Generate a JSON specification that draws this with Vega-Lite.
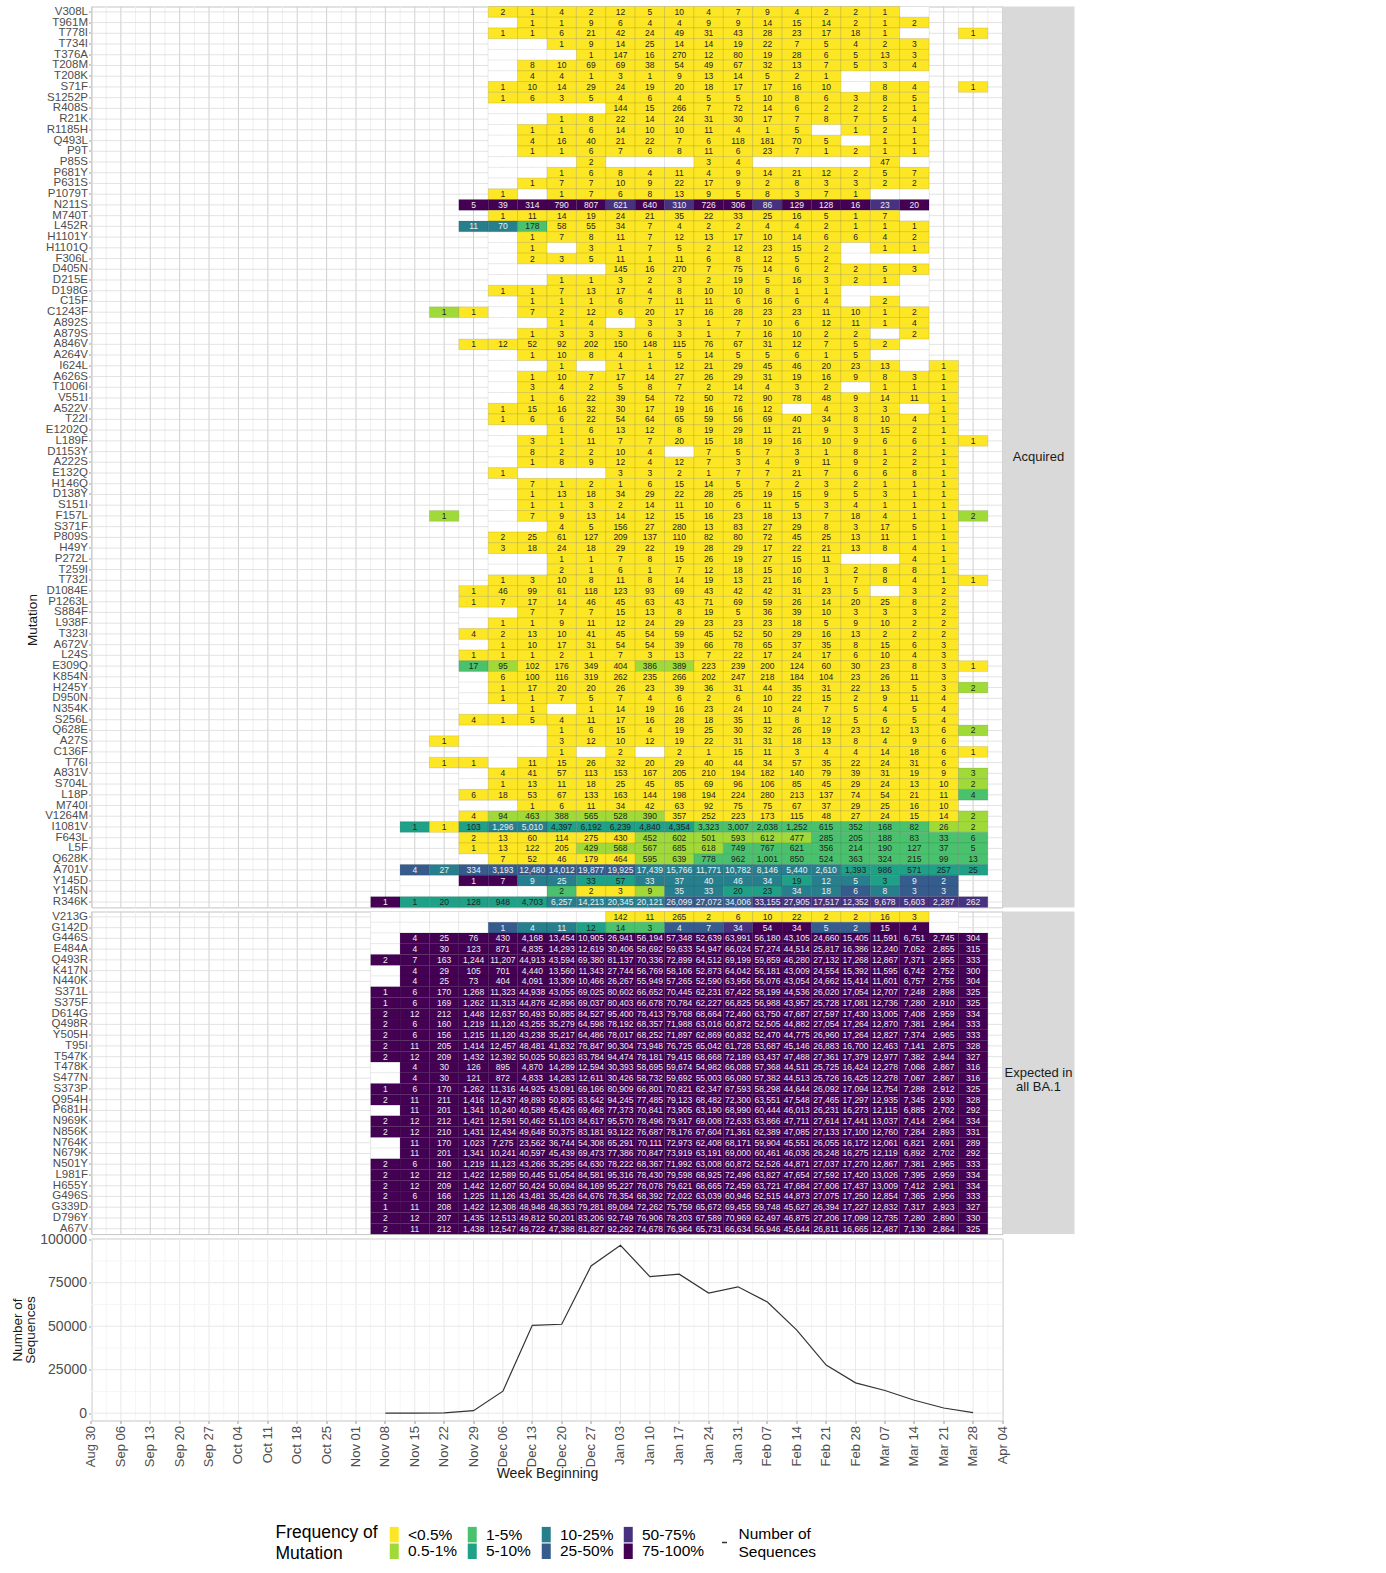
{"$schema":"https://vega.github.io/schema/vega-lite/v6.json","background":"white","padding":{"left":9.5,"top":4.5,"right":0,"bottom":0},"config":{"font":"Liberation Sans","view":{"stroke":"#c4c4c4"},"axis":{"labelFont":"Liberation Sans","titleFont":"Liberation Sans","labelColor":"#4d4d4d","tickColor":"#9a9a9a","tickSize":3}},"columns":2,"bounds":"flush","spacing":{"row":4,"column":0},
"datasets":{
"wk":[{"w":"Aug 30"},{"w":"Sep 06"},{"w":"Sep 13"},{"w":"Sep 20"},{"w":"Sep 27"},{"w":"Oct 04"},{"w":"Oct 11"},{"w":"Oct 18"},{"w":"Oct 25"},{"w":"Nov 01"},{"w":"Nov 08"},{"w":"Nov 15"},{"w":"Nov 22"},{"w":"Nov 29"},{"w":"Dec 06"},{"w":"Dec 13"},{"w":"Dec 20"},{"w":"Dec 27"},{"w":"Jan 03"},{"w":"Jan 10"},{"w":"Jan 17"},{"w":"Jan 24"},{"w":"Jan 31"},{"w":"Feb 07"},{"w":"Feb 14"},{"w":"Feb 21"},{"w":"Feb 28"},{"w":"Mar 07"},{"w":"Mar 14"},{"w":"Mar 21"},{"w":"Mar 28"},{"w":"Apr 04"}],
"wk2":[{"w":"Sep 06"},{"w":"Sep 13"},{"w":"Sep 20"},{"w":"Sep 27"},{"w":"Oct 04"},{"w":"Oct 11"},{"w":"Oct 18"},{"w":"Oct 25"},{"w":"Nov 01"},{"w":"Nov 08"},{"w":"Nov 15"},{"w":"Nov 22"},{"w":"Nov 29"},{"w":"Dec 06"},{"w":"Dec 13"},{"w":"Dec 20"},{"w":"Dec 27"},{"w":"Jan 03"},{"w":"Jan 10"},{"w":"Jan 17"},{"w":"Jan 24"},{"w":"Jan 31"},{"w":"Feb 07"},{"w":"Feb 14"},{"w":"Feb 21"},{"w":"Feb 28"},{"w":"Mar 07"},{"w":"Mar 14"},{"w":"Mar 21"},{"w":"Mar 28"},{"w":"Apr 04"}],
"r1":[{"m":"V308L"},{"m":"T961M"},{"m":"T778I"},{"m":"T734I"},{"m":"T376A"},{"m":"T208M"},{"m":"T208K"},{"m":"S71F"},{"m":"S1252P"},{"m":"R408S"},{"m":"R21K"},{"m":"R1185H"},{"m":"Q493L"},{"m":"P9T"},{"m":"P85S"},{"m":"P681Y"},{"m":"P631S"},{"m":"P1079T"},{"m":"N211S"},{"m":"M740T"},{"m":"L452R"},{"m":"H1101Y"},{"m":"H1101Q"},{"m":"F306L"},{"m":"D405N"},{"m":"D215E"},{"m":"D198G"},{"m":"C15F"},{"m":"C1243F"},{"m":"A892S"},{"m":"A879S"},{"m":"A846V"},{"m":"A264V"},{"m":"I624L"},{"m":"A626S"},{"m":"T1006I"},{"m":"V551I"},{"m":"A522V"},{"m":"T22I"},{"m":"E1202Q"},{"m":"L189F"},{"m":"D1153Y"},{"m":"A222S"},{"m":"E132Q"},{"m":"H146Q"},{"m":"D138Y"},{"m":"S151I"},{"m":"F157L"},{"m":"S371F"},{"m":"P809S"},{"m":"H49Y"},{"m":"P272L"},{"m":"T259I"},{"m":"T732I"},{"m":"D1084E"},{"m":"P1263L"},{"m":"S884F"},{"m":"L938F"},{"m":"T323I"},{"m":"A672V"},{"m":"L24S"},{"m":"E309Q"},{"m":"K854N"},{"m":"H245Y"},{"m":"D950N"},{"m":"N354K"},{"m":"S256L"},{"m":"Q628E"},{"m":"A27S"},{"m":"C136F"},{"m":"T76I"},{"m":"A831V"},{"m":"S704L"},{"m":"L18P"},{"m":"M740I"},{"m":"V1264M"},{"m":"I1081V"},{"m":"F643L"},{"m":"L5F"},{"m":"Q628K"},{"m":"A701V"},{"m":"Y145D"},{"m":"Y145N"},{"m":"R346K"}],
"r2":[{"m":"V213G"},{"m":"G142D"},{"m":"G446S"},{"m":"E484A"},{"m":"Q493R"},{"m":"K417N"},{"m":"N440K"},{"m":"S371L"},{"m":"S375F"},{"m":"D614G"},{"m":"Q498R"},{"m":"Y505H"},{"m":"T95I"},{"m":"T547K"},{"m":"T478K"},{"m":"S477N"},{"m":"S373P"},{"m":"Q954H"},{"m":"P681H"},{"m":"N969K"},{"m":"N856K"},{"m":"N764K"},{"m":"N679K"},{"m":"N501Y"},{"m":"L981F"},{"m":"H655Y"},{"m":"G496S"},{"m":"G339D"},{"m":"D796Y"},{"m":"A67V"}],
"na":[{"m":"V308L","w":"Mar 14"},{"m":"T961M","w":"Dec 06"},{"m":"T778I","w":"Mar 14"},{"m":"T734I","w":"Dec 06"},{"m":"T734I","w":"Dec 13"},{"m":"T376A","w":"Dec 06"},{"m":"T376A","w":"Dec 13"},{"m":"T376A","w":"Dec 20"},{"m":"T208M","w":"Dec 06"},{"m":"T208K","w":"Dec 06"},{"m":"T208K","w":"Feb 28"},{"m":"T208K","w":"Mar 07"},{"m":"T208K","w":"Mar 14"},{"m":"S71F","w":"Feb 28"},{"m":"R408S","w":"Dec 06"},{"m":"R408S","w":"Dec 13"},{"m":"R408S","w":"Dec 20"},{"m":"R408S","w":"Dec 27"},{"m":"R21K","w":"Dec 06"},{"m":"R21K","w":"Dec 13"},{"m":"R1185H","w":"Dec 06"},{"m":"R1185H","w":"Feb 21"},{"m":"Q493L","w":"Dec 06"},{"m":"Q493L","w":"Feb 28"},{"m":"P9T","w":"Dec 06"},{"m":"P85S","w":"Dec 06"},{"m":"P85S","w":"Dec 13"},{"m":"P85S","w":"Dec 20"},{"m":"P85S","w":"Jan 03"},{"m":"P85S","w":"Jan 10"},{"m":"P85S","w":"Jan 17"},{"m":"P85S","w":"Feb 07"},{"m":"P85S","w":"Feb 14"},{"m":"P85S","w":"Feb 21"},{"m":"P85S","w":"Feb 28"},{"m":"P85S","w":"Mar 14"},{"m":"P681Y","w":"Dec 06"},{"m":"P681Y","w":"Dec 13"},{"m":"P631S","w":"Dec 06"},{"m":"P1079T","w":"Dec 13"},{"m":"P1079T","w":"Mar 07"},{"m":"P1079T","w":"Mar 14"},{"m":"M740T","w":"Mar 14"},{"m":"H1101Y","w":"Dec 06"},{"m":"H1101Q","w":"Dec 06"},{"m":"H1101Q","w":"Dec 20"},{"m":"H1101Q","w":"Feb 28"},{"m":"F306L","w":"Dec 06"},{"m":"F306L","w":"Feb 28"},{"m":"F306L","w":"Mar 07"},{"m":"F306L","w":"Mar 14"},{"m":"D405N","w":"Dec 06"},{"m":"D405N","w":"Dec 13"},{"m":"D405N","w":"Dec 20"},{"m":"D405N","w":"Dec 27"},{"m":"D215E","w":"Dec 06"},{"m":"D215E","w":"Dec 13"},{"m":"D215E","w":"Mar 14"},{"m":"D198G","w":"Feb 28"},{"m":"D198G","w":"Mar 07"},{"m":"D198G","w":"Mar 14"},{"m":"C15F","w":"Dec 06"},{"m":"C15F","w":"Feb 28"},{"m":"C15F","w":"Mar 14"},{"m":"C1243F","w":"Dec 06"},{"m":"A892S","w":"Dec 06"},{"m":"A892S","w":"Dec 13"},{"m":"A892S","w":"Jan 03"},{"m":"A879S","w":"Dec 06"},{"m":"A879S","w":"Mar 07"},{"m":"A846V","w":"Mar 14"},{"m":"A264V","w":"Dec 06"},{"m":"A264V","w":"Mar 07"},{"m":"A264V","w":"Mar 14"},{"m":"I624L","w":"Dec 06"},{"m":"I624L","w":"Dec 13"},{"m":"I624L","w":"Dec 27"},{"m":"I624L","w":"Mar 14"},{"m":"A626S","w":"Dec 06"},{"m":"T1006I","w":"Dec 06"},{"m":"T1006I","w":"Feb 28"},{"m":"V551I","w":"Dec 06"},{"m":"A522V","w":"Feb 14"},{"m":"A522V","w":"Mar 14"},{"m":"E1202Q","w":"Dec 06"},{"m":"E1202Q","w":"Dec 13"},{"m":"L189F","w":"Dec 06"},{"m":"D1153Y","w":"Dec 06"},{"m":"D1153Y","w":"Jan 17"},{"m":"A222S","w":"Dec 06"},{"m":"E132Q","w":"Dec 13"},{"m":"E132Q","w":"Dec 20"},{"m":"E132Q","w":"Dec 27"},{"m":"H146Q","w":"Dec 06"},{"m":"D138Y","w":"Dec 06"},{"m":"S151I","w":"Dec 06"},{"m":"F157L","w":"Dec 06"},{"m":"S371F","w":"Dec 06"},{"m":"S371F","w":"Dec 13"},{"m":"P272L","w":"Dec 06"},{"m":"P272L","w":"Dec 13"},{"m":"P272L","w":"Feb 28"},{"m":"P272L","w":"Mar 07"},{"m":"T259I","w":"Dec 06"},{"m":"T259I","w":"Dec 13"},{"m":"D1084E","w":"Mar 07"},{"m":"S884F","w":"Nov 29"},{"m":"S884F","w":"Dec 06"},{"m":"L938F","w":"Nov 29"},{"m":"A672V","w":"Nov 29"},{"m":"K854N","w":"Nov 29"},{"m":"H245Y","w":"Nov 29"},{"m":"D950N","w":"Nov 29"},{"m":"N354K","w":"Nov 29"},{"m":"N354K","w":"Dec 06"},{"m":"N354K","w":"Dec 20"},{"m":"Q628E","w":"Nov 29"},{"m":"Q628E","w":"Dec 06"},{"m":"Q628E","w":"Dec 13"},{"m":"A27S","w":"Nov 29"},{"m":"A27S","w":"Dec 06"},{"m":"A27S","w":"Dec 13"},{"m":"C136F","w":"Nov 29"},{"m":"C136F","w":"Dec 06"},{"m":"C136F","w":"Dec 13"},{"m":"C136F","w":"Dec 27"},{"m":"C136F","w":"Jan 10"},{"m":"T76I","w":"Dec 06"},{"m":"A831V","w":"Nov 29"},{"m":"S704L","w":"Nov 29"},{"m":"M740I","w":"Nov 29"},{"m":"M740I","w":"Dec 06"},{"m":"Q628K","w":"Nov 29"},{"m":"Y145D","w":"Nov 15"},{"m":"Y145D","w":"Nov 22"},{"m":"Y145N","w":"Nov 15"},{"m":"Y145N","w":"Nov 22"},{"m":"Y145N","w":"Nov 29"},{"m":"Y145N","w":"Dec 06"},{"m":"Y145N","w":"Dec 13"}],
"na2":[{"m":"V213G","w":"Nov 08"},{"m":"V213G","w":"Nov 15"},{"m":"V213G","w":"Nov 22"},{"m":"V213G","w":"Nov 29"},{"m":"V213G","w":"Dec 06"},{"m":"V213G","w":"Dec 13"},{"m":"V213G","w":"Dec 20"},{"m":"V213G","w":"Dec 27"},{"m":"V213G","w":"Mar 21"},{"m":"G142D","w":"Nov 08"},{"m":"G142D","w":"Nov 15"},{"m":"G142D","w":"Nov 22"},{"m":"G142D","w":"Nov 29"},{"m":"G142D","w":"Mar 21"},{"m":"G446S","w":"Nov 08"},{"m":"E484A","w":"Nov 08"},{"m":"K417N","w":"Nov 08"},{"m":"N440K","w":"Nov 08"},{"m":"T478K","w":"Nov 08"},{"m":"S477N","w":"Nov 08"},{"m":"P681H","w":"Nov 08"},{"m":"N764K","w":"Nov 08"},{"m":"N679K","w":"Nov 08"}],
"t":[{"w":"Nov 08","v":2},{"w":"Nov 15","v":12},{"w":"Nov 22","v":212},{"w":"Nov 29","v":1448},{"w":"Dec 06","v":12640},{"w":"Dec 13","v":50500},{"w":"Dec 20","v":51100},{"w":"Dec 27","v":84620},{"w":"Jan 03","v":96500},{"w":"Jan 10","v":78500},{"w":"Jan 17","v":79920},{"w":"Jan 24","v":69010},{"w":"Jan 31","v":72640},{"w":"Feb 07","v":63870},{"w":"Feb 14","v":47720},{"w":"Feb 21","v":27620},{"w":"Feb 28","v":17450},{"w":"Mar 07","v":13040},{"w":"Mar 14","v":7420},{"w":"Mar 21","v":2970},{"w":"Mar 28","v":335}],
"h":[
{"m":"V308L","w":"Dec 06","n":2,"c":1},{"m":"V308L","w":"Dec 13","n":1,"c":1},{"m":"V308L","w":"Dec 20","n":4,"c":1},{"m":"V308L","w":"Dec 27","n":2,"c":1},{"m":"V308L","w":"Jan 03","n":12,"c":1},{"m":"V308L","w":"Jan 10","n":5,"c":1},{"m":"V308L","w":"Jan 17","n":10,"c":1},{"m":"V308L","w":"Jan 24","n":4,"c":1},{"m":"V308L","w":"Jan 31","n":7,"c":1},{"m":"V308L","w":"Feb 07","n":9,"c":1},{"m":"V308L","w":"Feb 14","n":4,"c":1},{"m":"V308L","w":"Feb 21","n":2,"c":1},{"m":"V308L","w":"Feb 28","n":2,"c":1},{"m":"V308L","w":"Mar 07","n":1,"c":1},
{"m":"T961M","w":"Dec 13","n":1,"c":1},{"m":"T961M","w":"Dec 20","n":1,"c":1},{"m":"T961M","w":"Dec 27","n":9,"c":1},{"m":"T961M","w":"Jan 03","n":6,"c":1},{"m":"T961M","w":"Jan 10","n":4,"c":1},{"m":"T961M","w":"Jan 17","n":4,"c":1},{"m":"T961M","w":"Jan 24","n":9,"c":1},{"m":"T961M","w":"Jan 31","n":9,"c":1},{"m":"T961M","w":"Feb 07","n":14,"c":1},{"m":"T961M","w":"Feb 14","n":15,"c":1},{"m":"T961M","w":"Feb 21","n":14,"c":1},{"m":"T961M","w":"Feb 28","n":2,"c":1},{"m":"T961M","w":"Mar 07","n":1,"c":1},{"m":"T961M","w":"Mar 14","n":2,"c":1},
{"m":"T778I","w":"Dec 06","n":1,"c":1},{"m":"T778I","w":"Dec 13","n":1,"c":1},{"m":"T778I","w":"Dec 20","n":6,"c":1},{"m":"T778I","w":"Dec 27","n":21,"c":1},{"m":"T778I","w":"Jan 03","n":42,"c":1},{"m":"T778I","w":"Jan 10","n":24,"c":1},{"m":"T778I","w":"Jan 17","n":49,"c":1},{"m":"T778I","w":"Jan 24","n":31,"c":1},{"m":"T778I","w":"Jan 31","n":43,"c":1},{"m":"T778I","w":"Feb 07","n":28,"c":1},{"m":"T778I","w":"Feb 14","n":23,"c":1},{"m":"T778I","w":"Feb 21","n":17,"c":1},{"m":"T778I","w":"Feb 28","n":18,"c":1},{"m":"T778I","w":"Mar 07","n":1,"c":1},{"m":"T778I","w":"Mar 28","n":1,"c":1},
{"m":"T734I","w":"Dec 20","n":1,"c":1},{"m":"T734I","w":"Dec 27","n":9,"c":1},{"m":"T734I","w":"Jan 03","n":14,"c":1},{"m":"T734I","w":"Jan 10","n":25,"c":1},{"m":"T734I","w":"Jan 17","n":14,"c":1},{"m":"T734I","w":"Jan 24","n":14,"c":1},{"m":"T734I","w":"Jan 31","n":19,"c":1},{"m":"T734I","w":"Feb 07","n":22,"c":1},{"m":"T734I","w":"Feb 14","n":7,"c":1},{"m":"T734I","w":"Feb 21","n":5,"c":1},{"m":"T734I","w":"Feb 28","n":4,"c":1},{"m":"T734I","w":"Mar 07","n":2,"c":1},{"m":"T734I","w":"Mar 14","n":3,"c":1},
{"m":"T376A","w":"Dec 27","n":1,"c":1},{"m":"T376A","w":"Jan 03","n":147,"c":1},{"m":"T376A","w":"Jan 10","n":16,"c":1},{"m":"T376A","w":"Jan 17","n":270,"c":1},{"m":"T376A","w":"Jan 24","n":12,"c":1},{"m":"T376A","w":"Jan 31","n":80,"c":1},{"m":"T376A","w":"Feb 07","n":19,"c":1},{"m":"T376A","w":"Feb 14","n":28,"c":1},{"m":"T376A","w":"Feb 21","n":6,"c":1},{"m":"T376A","w":"Feb 28","n":5,"c":1},{"m":"T376A","w":"Mar 07","n":13,"c":1},{"m":"T376A","w":"Mar 14","n":3,"c":1},
{"m":"T208M","w":"Dec 13","n":8,"c":1},{"m":"T208M","w":"Dec 20","n":10,"c":1},{"m":"T208M","w":"Dec 27","n":69,"c":1},{"m":"T208M","w":"Jan 03","n":69,"c":1},{"m":"T208M","w":"Jan 10","n":38,"c":1},{"m":"T208M","w":"Jan 17","n":54,"c":1},{"m":"T208M","w":"Jan 24","n":49,"c":1},{"m":"T208M","w":"Jan 31","n":67,"c":1},{"m":"T208M","w":"Feb 07","n":32,"c":1},{"m":"T208M","w":"Feb 14","n":13,"c":1},{"m":"T208M","w":"Feb 21","n":7,"c":1},{"m":"T208M","w":"Feb 28","n":5,"c":1},{"m":"T208M","w":"Mar 07","n":3,"c":1},{"m":"T208M","w":"Mar 14","n":4,"c":1},
{"m":"T208K","w":"Dec 13","n":4,"c":1},{"m":"T208K","w":"Dec 20","n":4,"c":1},{"m":"T208K","w":"Dec 27","n":1,"c":1},{"m":"T208K","w":"Jan 03","n":3,"c":1},{"m":"T208K","w":"Jan 10","n":1,"c":1},{"m":"T208K","w":"Jan 17","n":9,"c":1},{"m":"T208K","w":"Jan 24","n":13,"c":1},{"m":"T208K","w":"Jan 31","n":14,"c":1},{"m":"T208K","w":"Feb 07","n":5,"c":1},{"m":"T208K","w":"Feb 14","n":2,"c":1},{"m":"T208K","w":"Feb 21","n":1,"c":1},
{"m":"S71F","w":"Dec 06","n":1,"c":1},{"m":"S71F","w":"Dec 13","n":10,"c":1},{"m":"S71F","w":"Dec 20","n":14,"c":1},{"m":"S71F","w":"Dec 27","n":29,"c":1},{"m":"S71F","w":"Jan 03","n":24,"c":1},{"m":"S71F","w":"Jan 10","n":19,"c":1},{"m":"S71F","w":"Jan 17","n":20,"c":1},{"m":"S71F","w":"Jan 24","n":18,"c":1},{"m":"S71F","w":"Jan 31","n":17,"c":1},{"m":"S71F","w":"Feb 07","n":17,"c":1},{"m":"S71F","w":"Feb 14","n":16,"c":1},{"m":"S71F","w":"Feb 21","n":10,"c":1},{"m":"S71F","w":"Mar 07","n":8,"c":1},{"m":"S71F","w":"Mar 14","n":4,"c":1},{"m":"S71F","w":"Mar 28","n":1,"c":1},
{"m":"S1252P","w":"Dec 06","n":1,"c":1},{"m":"S1252P","w":"Dec 13","n":6,"c":1},{"m":"S1252P","w":"Dec 20","n":3,"c":1},{"m":"S1252P","w":"Dec 27","n":5,"c":1},{"m":"S1252P","w":"Jan 03","n":4,"c":1},{"m":"S1252P","w":"Jan 10","n":6,"c":1},{"m":"S1252P","w":"Jan 17","n":4,"c":1},{"m":"S1252P","w":"Jan 24","n":5,"c":1},{"m":"S1252P","w":"Jan 31","n":5,"c":1},{"m":"S1252P","w":"Feb 07","n":10,"c":1},{"m":"S1252P","w":"Feb 14","n":8,"c":1},{"m":"S1252P","w":"Feb 21","n":6,"c":1},{"m":"S1252P","w":"Feb 28","n":3,"c":1},{"m":"S1252P","w":"Mar 07","n":8,"c":1},{"m":"S1252P","w":"Mar 14","n":5,"c":1},
{"m":"R408S","w":"Jan 03","n":144,"c":1},{"m":"R408S","w":"Jan 10","n":15,"c":1},{"m":"R408S","w":"Jan 17","n":266,"c":1},{"m":"R408S","w":"Jan 24","n":7,"c":1},{"m":"R408S","w":"Jan 31","n":72,"c":1},{"m":"R408S","w":"Feb 07","n":14,"c":1},{"m":"R408S","w":"Feb 14","n":6,"c":1},{"m":"R408S","w":"Feb 21","n":2,"c":1},{"m":"R408S","w":"Feb 28","n":2,"c":1},{"m":"R408S","w":"Mar 07","n":2,"c":1},{"m":"R408S","w":"Mar 14","n":1,"c":1},
{"m":"R21K","w":"Dec 20","n":1,"c":1},{"m":"R21K","w":"Dec 27","n":8,"c":1},{"m":"R21K","w":"Jan 03","n":22,"c":1},{"m":"R21K","w":"Jan 10","n":14,"c":1},{"m":"R21K","w":"Jan 17","n":24,"c":1},{"m":"R21K","w":"Jan 24","n":31,"c":1},{"m":"R21K","w":"Jan 31","n":30,"c":1},{"m":"R21K","w":"Feb 07","n":17,"c":1},{"m":"R21K","w":"Feb 14","n":7,"c":1},{"m":"R21K","w":"Feb 21","n":8,"c":1},{"m":"R21K","w":"Feb 28","n":7,"c":1},{"m":"R21K","w":"Mar 07","n":5,"c":1},{"m":"R21K","w":"Mar 14","n":4,"c":1},
{"m":"R1185H","w":"Dec 13","n":1,"c":1},{"m":"R1185H","w":"Dec 20","n":1,"c":1},{"m":"R1185H","w":"Dec 27","n":6,"c":1},{"m":"R1185H","w":"Jan 03","n":14,"c":1},{"m":"R1185H","w":"Jan 10","n":10,"c":1},{"m":"R1185H","w":"Jan 17","n":10,"c":1},{"m":"R1185H","w":"Jan 24","n":11,"c":1},{"m":"R1185H","w":"Jan 31","n":4,"c":1},{"m":"R1185H","w":"Feb 07","n":1,"c":1},{"m":"R1185H","w":"Feb 14","n":5,"c":1},{"m":"R1185H","w":"Feb 28","n":1,"c":1},{"m":"R1185H","w":"Mar 07","n":2,"c":1},{"m":"R1185H","w":"Mar 14","n":1,"c":1},
{"m":"Q493L","w":"Dec 13","n":4,"c":1},{"m":"Q493L","w":"Dec 20","n":16,"c":1},{"m":"Q493L","w":"Dec 27","n":40,"c":1},{"m":"Q493L","w":"Jan 03","n":21,"c":1},{"m":"Q493L","w":"Jan 10","n":22,"c":1},{"m":"Q493L","w":"Jan 17","n":7,"c":1},{"m":"Q493L","w":"Jan 24","n":6,"c":1},{"m":"Q493L","w":"Jan 31","n":118,"c":1},{"m":"Q493L","w":"Feb 07","n":181,"c":1},{"m":"Q493L","w":"Feb 14","n":70,"c":1},{"m":"Q493L","w":"Feb 21","n":5,"c":1},{"m":"Q493L","w":"Mar 07","n":1,"c":1},{"m":"Q493L","w":"Mar 14","n":1,"c":1},
{"m":"P9T","w":"Dec 13","n":1,"c":1},{"m":"P9T","w":"Dec 20","n":1,"c":1},{"m":"P9T","w":"Dec 27","n":6,"c":1},{"m":"P9T","w":"Jan 03","n":7,"c":1},{"m":"P9T","w":"Jan 10","n":6,"c":1},{"m":"P9T","w":"Jan 17","n":8,"c":1},{"m":"P9T","w":"Jan 24","n":11,"c":1},{"m":"P9T","w":"Jan 31","n":6,"c":1},{"m":"P9T","w":"Feb 07","n":23,"c":1},{"m":"P9T","w":"Feb 14","n":7,"c":1},{"m":"P9T","w":"Feb 21","n":1,"c":1},{"m":"P9T","w":"Feb 28","n":2,"c":1},{"m":"P9T","w":"Mar 07","n":1,"c":1},{"m":"P9T","w":"Mar 14","n":1,"c":1},
{"m":"P85S","w":"Dec 27","n":2,"c":1},{"m":"P85S","w":"Jan 24","n":3,"c":1},{"m":"P85S","w":"Jan 31","n":4,"c":1},{"m":"P85S","w":"Mar 07","n":47,"c":1},
{"m":"P681Y","w":"Dec 20","n":1,"c":1},{"m":"P681Y","w":"Dec 27","n":6,"c":1},{"m":"P681Y","w":"Jan 03","n":8,"c":1},{"m":"P681Y","w":"Jan 10","n":4,"c":1},{"m":"P681Y","w":"Jan 17","n":11,"c":1},{"m":"P681Y","w":"Jan 24","n":4,"c":1},{"m":"P681Y","w":"Jan 31","n":9,"c":1},{"m":"P681Y","w":"Feb 07","n":14,"c":1},{"m":"P681Y","w":"Feb 14","n":21,"c":1},{"m":"P681Y","w":"Feb 21","n":12,"c":1},{"m":"P681Y","w":"Feb 28","n":2,"c":1},{"m":"P681Y","w":"Mar 07","n":5,"c":1},{"m":"P681Y","w":"Mar 14","n":7,"c":1},
{"m":"P631S","w":"Dec 13","n":1,"c":1},{"m":"P631S","w":"Dec 20","n":7,"c":1},{"m":"P631S","w":"Dec 27","n":7,"c":1},{"m":"P631S","w":"Jan 03","n":10,"c":1},{"m":"P631S","w":"Jan 10","n":9,"c":1},{"m":"P631S","w":"Jan 17","n":22,"c":1},{"m":"P631S","w":"Jan 24","n":17,"c":1},{"m":"P631S","w":"Jan 31","n":9,"c":1},{"m":"P631S","w":"Feb 07","n":2,"c":1},{"m":"P631S","w":"Feb 14","n":8,"c":1},{"m":"P631S","w":"Feb 21","n":3,"c":1},{"m":"P631S","w":"Feb 28","n":3,"c":1},{"m":"P631S","w":"Mar 07","n":2,"c":1},{"m":"P631S","w":"Mar 14","n":2,"c":1},
{"m":"P1079T","w":"Dec 06","n":1,"c":1},{"m":"P1079T","w":"Dec 20","n":1,"c":1},{"m":"P1079T","w":"Dec 27","n":7,"c":1},{"m":"P1079T","w":"Jan 03","n":6,"c":1},{"m":"P1079T","w":"Jan 10","n":8,"c":1},{"m":"P1079T","w":"Jan 17","n":13,"c":1},{"m":"P1079T","w":"Jan 24","n":9,"c":1},{"m":"P1079T","w":"Jan 31","n":5,"c":1},{"m":"P1079T","w":"Feb 07","n":8,"c":1},{"m":"P1079T","w":"Feb 14","n":3,"c":1},{"m":"P1079T","w":"Feb 21","n":7,"c":1},{"m":"P1079T","w":"Feb 28","n":1,"c":1},
{"m":"N211S","w":"Nov 29","n":5,"c":8},{"m":"N211S","w":"Dec 06","n":39,"c":8},{"m":"N211S","w":"Dec 13","n":314,"c":8},{"m":"N211S","w":"Dec 20","n":790,"c":8},{"m":"N211S","w":"Dec 27","n":807,"c":8},{"m":"N211S","w":"Jan 03","n":621,"c":7},{"m":"N211S","w":"Jan 10","n":640,"c":8},{"m":"N211S","w":"Jan 17","n":310,"c":7},{"m":"N211S","w":"Jan 24","n":726,"c":8},{"m":"N211S","w":"Jan 31","n":306,"c":8},{"m":"N211S","w":"Feb 07","n":86,"c":7},{"m":"N211S","w":"Feb 14","n":129,"c":8},{"m":"N211S","w":"Feb 21","n":128,"c":8},{"m":"N211S","w":"Feb 28","n":16,"c":8},{"m":"N211S","w":"Mar 07","n":23,"c":7},{"m":"N211S","w":"Mar 14","n":20,"c":8},
{"m":"M740T","w":"Dec 06","n":1,"c":1},{"m":"M740T","w":"Dec 13","n":11,"c":1},{"m":"M740T","w":"Dec 20","n":14,"c":1},{"m":"M740T","w":"Dec 27","n":19,"c":1},{"m":"M740T","w":"Jan 03","n":24,"c":1},{"m":"M740T","w":"Jan 10","n":21,"c":1},{"m":"M740T","w":"Jan 17","n":35,"c":1},{"m":"M740T","w":"Jan 24","n":22,"c":1},{"m":"M740T","w":"Jan 31","n":33,"c":1},{"m":"M740T","w":"Feb 07","n":25,"c":1},{"m":"M740T","w":"Feb 14","n":16,"c":1},{"m":"M740T","w":"Feb 21","n":5,"c":1},{"m":"M740T","w":"Feb 28","n":1,"c":1},{"m":"M740T","w":"Mar 07","n":7,"c":1},
{"m":"L452R","w":"Nov 29","n":11,"c":5},{"m":"L452R","w":"Dec 06","n":70,"c":5},{"m":"L452R","w":"Dec 13","n":178,"c":3},{"m":"L452R","w":"Dec 20","n":58,"c":1},{"m":"L452R","w":"Dec 27","n":55,"c":1},{"m":"L452R","w":"Jan 03","n":34,"c":1},{"m":"L452R","w":"Jan 10","n":7,"c":1},{"m":"L452R","w":"Jan 17","n":4,"c":1},{"m":"L452R","w":"Jan 24","n":2,"c":1},{"m":"L452R","w":"Jan 31","n":2,"c":1},{"m":"L452R","w":"Feb 07","n":4,"c":1},{"m":"L452R","w":"Feb 14","n":4,"c":1},{"m":"L452R","w":"Feb 21","n":2,"c":1},{"m":"L452R","w":"Feb 28","n":1,"c":1},{"m":"L452R","w":"Mar 07","n":1,"c":1},{"m":"L452R","w":"Mar 14","n":1,"c":1},
{"m":"H1101Y","w":"Dec 13","n":1,"c":1},{"m":"H1101Y","w":"Dec 20","n":7,"c":1},{"m":"H1101Y","w":"Dec 27","n":8,"c":1},{"m":"H1101Y","w":"Jan 03","n":11,"c":1},{"m":"H1101Y","w":"Jan 10","n":7,"c":1},{"m":"H1101Y","w":"Jan 17","n":12,"c":1},{"m":"H1101Y","w":"Jan 24","n":13,"c":1},{"m":"H1101Y","w":"Jan 31","n":17,"c":1},{"m":"H1101Y","w":"Feb 07","n":10,"c":1},{"m":"H1101Y","w":"Feb 14","n":14,"c":1},{"m":"H1101Y","w":"Feb 21","n":6,"c":1},{"m":"H1101Y","w":"Feb 28","n":6,"c":1},{"m":"H1101Y","w":"Mar 07","n":4,"c":1},{"m":"H1101Y","w":"Mar 14","n":2,"c":1},
{"m":"H1101Q","w":"Dec 13","n":1,"c":1},{"m":"H1101Q","w":"Dec 27","n":3,"c":1},{"m":"H1101Q","w":"Jan 03","n":1,"c":1},{"m":"H1101Q","w":"Jan 10","n":7,"c":1},{"m":"H1101Q","w":"Jan 17","n":5,"c":1},{"m":"H1101Q","w":"Jan 24","n":2,"c":1},{"m":"H1101Q","w":"Jan 31","n":12,"c":1},{"m":"H1101Q","w":"Feb 07","n":23,"c":1},{"m":"H1101Q","w":"Feb 14","n":15,"c":1},{"m":"H1101Q","w":"Feb 21","n":2,"c":1},{"m":"H1101Q","w":"Mar 07","n":1,"c":1},{"m":"H1101Q","w":"Mar 14","n":1,"c":1},
{"m":"F306L","w":"Dec 13","n":2,"c":1},{"m":"F306L","w":"Dec 20","n":3,"c":1},{"m":"F306L","w":"Dec 27","n":5,"c":1},{"m":"F306L","w":"Jan 03","n":11,"c":1},{"m":"F306L","w":"Jan 10","n":1,"c":1},{"m":"F306L","w":"Jan 17","n":11,"c":1},{"m":"F306L","w":"Jan 24","n":6,"c":1},{"m":"F306L","w":"Jan 31","n":8,"c":1},{"m":"F306L","w":"Feb 07","n":12,"c":1},{"m":"F306L","w":"Feb 14","n":5,"c":1},{"m":"F306L","w":"Feb 21","n":2,"c":1},
{"m":"D405N","w":"Jan 03","n":145,"c":1},{"m":"D405N","w":"Jan 10","n":16,"c":1},{"m":"D405N","w":"Jan 17","n":270,"c":1},{"m":"D405N","w":"Jan 24","n":7,"c":1},{"m":"D405N","w":"Jan 31","n":75,"c":1},{"m":"D405N","w":"Feb 07","n":14,"c":1},{"m":"D405N","w":"Feb 14","n":6,"c":1},{"m":"D405N","w":"Feb 21","n":2,"c":1},{"m":"D405N","w":"Feb 28","n":2,"c":1},{"m":"D405N","w":"Mar 07","n":5,"c":1},{"m":"D405N","w":"Mar 14","n":3,"c":1},
{"m":"D215E","w":"Dec 20","n":1,"c":1},{"m":"D215E","w":"Dec 27","n":1,"c":1},{"m":"D215E","w":"Jan 03","n":3,"c":1},{"m":"D215E","w":"Jan 10","n":2,"c":1},{"m":"D215E","w":"Jan 17","n":3,"c":1},{"m":"D215E","w":"Jan 24","n":2,"c":1},{"m":"D215E","w":"Jan 31","n":19,"c":1},{"m":"D215E","w":"Feb 07","n":5,"c":1},{"m":"D215E","w":"Feb 14","n":16,"c":1},{"m":"D215E","w":"Feb 21","n":3,"c":1},{"m":"D215E","w":"Feb 28","n":2,"c":1},{"m":"D215E","w":"Mar 07","n":1,"c":1},
{"m":"D198G","w":"Dec 06","n":1,"c":1},{"m":"D198G","w":"Dec 13","n":1,"c":1},{"m":"D198G","w":"Dec 20","n":7,"c":1},{"m":"D198G","w":"Dec 27","n":13,"c":1},{"m":"D198G","w":"Jan 03","n":17,"c":1},{"m":"D198G","w":"Jan 10","n":4,"c":1},{"m":"D198G","w":"Jan 17","n":8,"c":1},{"m":"D198G","w":"Jan 24","n":10,"c":1},{"m":"D198G","w":"Jan 31","n":10,"c":1},{"m":"D198G","w":"Feb 07","n":8,"c":1},{"m":"D198G","w":"Feb 14","n":1,"c":1},{"m":"D198G","w":"Feb 21","n":1,"c":1},
{"m":"C15F","w":"Dec 13","n":1,"c":1},{"m":"C15F","w":"Dec 20","n":1,"c":1},{"m":"C15F","w":"Dec 27","n":1,"c":1},{"m":"C15F","w":"Jan 03","n":6,"c":1},{"m":"C15F","w":"Jan 10","n":7,"c":1},{"m":"C15F","w":"Jan 17","n":11,"c":1},{"m":"C15F","w":"Jan 24","n":11,"c":1},{"m":"C15F","w":"Jan 31","n":6,"c":1},{"m":"C15F","w":"Feb 07","n":16,"c":1},{"m":"C15F","w":"Feb 14","n":6,"c":1},{"m":"C15F","w":"Feb 21","n":4,"c":1},{"m":"C15F","w":"Mar 07","n":2,"c":1},
{"m":"C1243F","w":"Nov 22","n":1,"c":2},{"m":"C1243F","w":"Nov 29","n":1,"c":1},{"m":"C1243F","w":"Dec 13","n":7,"c":1},{"m":"C1243F","w":"Dec 20","n":2,"c":1},{"m":"C1243F","w":"Dec 27","n":12,"c":1},{"m":"C1243F","w":"Jan 03","n":6,"c":1},{"m":"C1243F","w":"Jan 10","n":20,"c":1},{"m":"C1243F","w":"Jan 17","n":17,"c":1},{"m":"C1243F","w":"Jan 24","n":16,"c":1},{"m":"C1243F","w":"Jan 31","n":28,"c":1},{"m":"C1243F","w":"Feb 07","n":23,"c":1},{"m":"C1243F","w":"Feb 14","n":23,"c":1},{"m":"C1243F","w":"Feb 21","n":11,"c":1},{"m":"C1243F","w":"Feb 28","n":10,"c":1},{"m":"C1243F","w":"Mar 07","n":1,"c":1},{"m":"C1243F","w":"Mar 14","n":2,"c":1},
{"m":"A892S","w":"Dec 20","n":1,"c":1},{"m":"A892S","w":"Dec 27","n":4,"c":1},{"m":"A892S","w":"Jan 10","n":3,"c":1},{"m":"A892S","w":"Jan 17","n":3,"c":1},{"m":"A892S","w":"Jan 24","n":1,"c":1},{"m":"A892S","w":"Jan 31","n":7,"c":1},{"m":"A892S","w":"Feb 07","n":10,"c":1},{"m":"A892S","w":"Feb 14","n":6,"c":1},{"m":"A892S","w":"Feb 21","n":12,"c":1},{"m":"A892S","w":"Feb 28","n":11,"c":1},{"m":"A892S","w":"Mar 07","n":1,"c":1},{"m":"A892S","w":"Mar 14","n":4,"c":1},
{"m":"A879S","w":"Dec 13","n":1,"c":1},{"m":"A879S","w":"Dec 20","n":3,"c":1},{"m":"A879S","w":"Dec 27","n":3,"c":1},{"m":"A879S","w":"Jan 03","n":3,"c":1},{"m":"A879S","w":"Jan 10","n":6,"c":1},{"m":"A879S","w":"Jan 17","n":3,"c":1},{"m":"A879S","w":"Jan 24","n":1,"c":1},{"m":"A879S","w":"Jan 31","n":7,"c":1},{"m":"A879S","w":"Feb 07","n":16,"c":1},{"m":"A879S","w":"Feb 14","n":10,"c":1},{"m":"A879S","w":"Feb 21","n":2,"c":1},{"m":"A879S","w":"Feb 28","n":2,"c":1},{"m":"A879S","w":"Mar 14","n":2,"c":1},
{"m":"A846V","w":"Nov 29","n":1,"c":1},{"m":"A846V","w":"Dec 06","n":12,"c":1},{"m":"A846V","w":"Dec 13","n":52,"c":1},{"m":"A846V","w":"Dec 20","n":92,"c":1},{"m":"A846V","w":"Dec 27","n":202,"c":1},{"m":"A846V","w":"Jan 03","n":150,"c":1},{"m":"A846V","w":"Jan 10","n":148,"c":1},{"m":"A846V","w":"Jan 17","n":115,"c":1},{"m":"A846V","w":"Jan 24","n":76,"c":1},{"m":"A846V","w":"Jan 31","n":67,"c":1},{"m":"A846V","w":"Feb 07","n":31,"c":1},{"m":"A846V","w":"Feb 14","n":12,"c":1},{"m":"A846V","w":"Feb 21","n":7,"c":1},{"m":"A846V","w":"Feb 28","n":5,"c":1},{"m":"A846V","w":"Mar 07","n":2,"c":1},
{"m":"A264V","w":"Dec 13","n":1,"c":1},{"m":"A264V","w":"Dec 20","n":10,"c":1},{"m":"A264V","w":"Dec 27","n":8,"c":1},{"m":"A264V","w":"Jan 03","n":4,"c":1},{"m":"A264V","w":"Jan 10","n":1,"c":1},{"m":"A264V","w":"Jan 17","n":5,"c":1},{"m":"A264V","w":"Jan 24","n":14,"c":1},{"m":"A264V","w":"Jan 31","n":5,"c":1},{"m":"A264V","w":"Feb 07","n":5,"c":1},{"m":"A264V","w":"Feb 14","n":6,"c":1},{"m":"A264V","w":"Feb 21","n":1,"c":1},{"m":"A264V","w":"Feb 28","n":5,"c":1},
{"m":"I624L","w":"Dec 20","n":1,"c":1},{"m":"I624L","w":"Jan 03","n":1,"c":1},{"m":"I624L","w":"Jan 10","n":1,"c":1},{"m":"I624L","w":"Jan 17","n":12,"c":1},{"m":"I624L","w":"Jan 24","n":21,"c":1},{"m":"I624L","w":"Jan 31","n":29,"c":1},{"m":"I624L","w":"Feb 07","n":45,"c":1},{"m":"I624L","w":"Feb 14","n":46,"c":1},{"m":"I624L","w":"Feb 21","n":20,"c":1},{"m":"I624L","w":"Feb 28","n":23,"c":1},{"m":"I624L","w":"Mar 07","n":13,"c":1},{"m":"I624L","w":"Mar 21","n":1,"c":1},
{"m":"A626S","w":"Dec 13","n":1,"c":1},{"m":"A626S","w":"Dec 20","n":10,"c":1},{"m":"A626S","w":"Dec 27","n":7,"c":1},{"m":"A626S","w":"Jan 03","n":17,"c":1},{"m":"A626S","w":"Jan 10","n":14,"c":1},{"m":"A626S","w":"Jan 17","n":27,"c":1},{"m":"A626S","w":"Jan 24","n":26,"c":1},{"m":"A626S","w":"Jan 31","n":29,"c":1},{"m":"A626S","w":"Feb 07","n":31,"c":1},{"m":"A626S","w":"Feb 14","n":19,"c":1},{"m":"A626S","w":"Feb 21","n":16,"c":1},{"m":"A626S","w":"Feb 28","n":9,"c":1},{"m":"A626S","w":"Mar 07","n":8,"c":1},{"m":"A626S","w":"Mar 14","n":3,"c":1},{"m":"A626S","w":"Mar 21","n":1,"c":1},
{"m":"T1006I","w":"Dec 13","n":3,"c":1},{"m":"T1006I","w":"Dec 20","n":4,"c":1},{"m":"T1006I","w":"Dec 27","n":2,"c":1},{"m":"T1006I","w":"Jan 03","n":5,"c":1},{"m":"T1006I","w":"Jan 10","n":8,"c":1},{"m":"T1006I","w":"Jan 17","n":7,"c":1},{"m":"T1006I","w":"Jan 24","n":2,"c":1},{"m":"T1006I","w":"Jan 31","n":14,"c":1},{"m":"T1006I","w":"Feb 07","n":4,"c":1},{"m":"T1006I","w":"Feb 14","n":3,"c":1},{"m":"T1006I","w":"Feb 21","n":2,"c":1},{"m":"T1006I","w":"Mar 07","n":1,"c":1},{"m":"T1006I","w":"Mar 14","n":1,"c":1},{"m":"T1006I","w":"Mar 21","n":1,"c":1},
{"m":"V551I","w":"Dec 13","n":1,"c":1},{"m":"V551I","w":"Dec 20","n":6,"c":1},{"m":"V551I","w":"Dec 27","n":22,"c":1},{"m":"V551I","w":"Jan 03","n":39,"c":1},{"m":"V551I","w":"Jan 10","n":54,"c":1},{"m":"V551I","w":"Jan 17","n":72,"c":1},{"m":"V551I","w":"Jan 24","n":50,"c":1},{"m":"V551I","w":"Jan 31","n":72,"c":1},{"m":"V551I","w":"Feb 07","n":90,"c":1},{"m":"V551I","w":"Feb 14","n":78,"c":1},{"m":"V551I","w":"Feb 21","n":48,"c":1},{"m":"V551I","w":"Feb 28","n":9,"c":1},{"m":"V551I","w":"Mar 07","n":14,"c":1},{"m":"V551I","w":"Mar 14","n":11,"c":1},{"m":"V551I","w":"Mar 21","n":1,"c":1},
{"m":"A522V","w":"Dec 06","n":1,"c":1},{"m":"A522V","w":"Dec 13","n":15,"c":1},{"m":"A522V","w":"Dec 20","n":16,"c":1},{"m":"A522V","w":"Dec 27","n":32,"c":1},{"m":"A522V","w":"Jan 03","n":30,"c":1},{"m":"A522V","w":"Jan 10","n":17,"c":1},{"m":"A522V","w":"Jan 17","n":19,"c":1},{"m":"A522V","w":"Jan 24","n":16,"c":1},{"m":"A522V","w":"Jan 31","n":16,"c":1},{"m":"A522V","w":"Feb 07","n":12,"c":1},{"m":"A522V","w":"Feb 21","n":4,"c":1},{"m":"A522V","w":"Feb 28","n":3,"c":1},{"m":"A522V","w":"Mar 07","n":3,"c":1},{"m":"A522V","w":"Mar 21","n":1,"c":1},
{"m":"T22I","w":"Dec 06","n":1,"c":1},{"m":"T22I","w":"Dec 13","n":6,"c":1},{"m":"T22I","w":"Dec 20","n":6,"c":1},{"m":"T22I","w":"Dec 27","n":22,"c":1},{"m":"T22I","w":"Jan 03","n":54,"c":1},{"m":"T22I","w":"Jan 10","n":64,"c":1},{"m":"T22I","w":"Jan 17","n":65,"c":1},{"m":"T22I","w":"Jan 24","n":59,"c":1},{"m":"T22I","w":"Jan 31","n":56,"c":1},{"m":"T22I","w":"Feb 07","n":69,"c":1},{"m":"T22I","w":"Feb 14","n":40,"c":1},{"m":"T22I","w":"Feb 21","n":34,"c":1},{"m":"T22I","w":"Feb 28","n":8,"c":1},{"m":"T22I","w":"Mar 07","n":10,"c":1},{"m":"T22I","w":"Mar 14","n":4,"c":1},{"m":"T22I","w":"Mar 21","n":1,"c":1},
{"m":"E1202Q","w":"Dec 20","n":1,"c":1},{"m":"E1202Q","w":"Dec 27","n":6,"c":1},{"m":"E1202Q","w":"Jan 03","n":13,"c":1},{"m":"E1202Q","w":"Jan 10","n":12,"c":1},{"m":"E1202Q","w":"Jan 17","n":8,"c":1},{"m":"E1202Q","w":"Jan 24","n":19,"c":1},{"m":"E1202Q","w":"Jan 31","n":29,"c":1},{"m":"E1202Q","w":"Feb 07","n":11,"c":1},{"m":"E1202Q","w":"Feb 14","n":21,"c":1},{"m":"E1202Q","w":"Feb 21","n":9,"c":1},{"m":"E1202Q","w":"Feb 28","n":3,"c":1},{"m":"E1202Q","w":"Mar 07","n":15,"c":1},{"m":"E1202Q","w":"Mar 14","n":2,"c":1},{"m":"E1202Q","w":"Mar 21","n":1,"c":1},
{"m":"L189F","w":"Dec 13","n":3,"c":1},{"m":"L189F","w":"Dec 20","n":1,"c":1},{"m":"L189F","w":"Dec 27","n":11,"c":1},{"m":"L189F","w":"Jan 03","n":7,"c":1},{"m":"L189F","w":"Jan 10","n":7,"c":1},{"m":"L189F","w":"Jan 17","n":20,"c":1},{"m":"L189F","w":"Jan 24","n":15,"c":1},{"m":"L189F","w":"Jan 31","n":18,"c":1},{"m":"L189F","w":"Feb 07","n":19,"c":1},{"m":"L189F","w":"Feb 14","n":16,"c":1},{"m":"L189F","w":"Feb 21","n":10,"c":1},{"m":"L189F","w":"Feb 28","n":9,"c":1},{"m":"L189F","w":"Mar 07","n":6,"c":1},{"m":"L189F","w":"Mar 14","n":6,"c":1},{"m":"L189F","w":"Mar 21","n":1,"c":1},{"m":"L189F","w":"Mar 28","n":1,"c":1},
{"m":"D1153Y","w":"Dec 13","n":8,"c":1},{"m":"D1153Y","w":"Dec 20","n":2,"c":1},{"m":"D1153Y","w":"Dec 27","n":2,"c":1},{"m":"D1153Y","w":"Jan 03","n":10,"c":1},{"m":"D1153Y","w":"Jan 10","n":4,"c":1},{"m":"D1153Y","w":"Jan 24","n":7,"c":1},{"m":"D1153Y","w":"Jan 31","n":5,"c":1},{"m":"D1153Y","w":"Feb 07","n":7,"c":1},{"m":"D1153Y","w":"Feb 14","n":3,"c":1},{"m":"D1153Y","w":"Feb 21","n":1,"c":1},{"m":"D1153Y","w":"Feb 28","n":8,"c":1},{"m":"D1153Y","w":"Mar 07","n":1,"c":1},{"m":"D1153Y","w":"Mar 14","n":2,"c":1},{"m":"D1153Y","w":"Mar 21","n":1,"c":1},
{"m":"A222S","w":"Dec 13","n":1,"c":1},{"m":"A222S","w":"Dec 20","n":8,"c":1},{"m":"A222S","w":"Dec 27","n":9,"c":1},{"m":"A222S","w":"Jan 03","n":12,"c":1},{"m":"A222S","w":"Jan 10","n":4,"c":1},{"m":"A222S","w":"Jan 17","n":12,"c":1},{"m":"A222S","w":"Jan 24","n":7,"c":1},{"m":"A222S","w":"Jan 31","n":3,"c":1},{"m":"A222S","w":"Feb 07","n":4,"c":1},{"m":"A222S","w":"Feb 14","n":9,"c":1},{"m":"A222S","w":"Feb 21","n":11,"c":1},{"m":"A222S","w":"Feb 28","n":9,"c":1},{"m":"A222S","w":"Mar 07","n":2,"c":1},{"m":"A222S","w":"Mar 14","n":2,"c":1},{"m":"A222S","w":"Mar 21","n":1,"c":1},
{"m":"E132Q","w":"Dec 06","n":1,"c":1},{"m":"E132Q","w":"Jan 03","n":3,"c":1},{"m":"E132Q","w":"Jan 10","n":3,"c":1},{"m":"E132Q","w":"Jan 17","n":2,"c":1},{"m":"E132Q","w":"Jan 24","n":1,"c":1},{"m":"E132Q","w":"Jan 31","n":7,"c":1},{"m":"E132Q","w":"Feb 07","n":7,"c":1},{"m":"E132Q","w":"Feb 14","n":21,"c":1},{"m":"E132Q","w":"Feb 21","n":7,"c":1},{"m":"E132Q","w":"Feb 28","n":6,"c":1},{"m":"E132Q","w":"Mar 07","n":6,"c":1},{"m":"E132Q","w":"Mar 14","n":8,"c":1},{"m":"E132Q","w":"Mar 21","n":1,"c":1},
{"m":"H146Q","w":"Dec 13","n":7,"c":1},{"m":"H146Q","w":"Dec 20","n":1,"c":1},{"m":"H146Q","w":"Dec 27","n":2,"c":1},{"m":"H146Q","w":"Jan 03","n":1,"c":1},{"m":"H146Q","w":"Jan 10","n":6,"c":1},{"m":"H146Q","w":"Jan 17","n":15,"c":1},{"m":"H146Q","w":"Jan 24","n":14,"c":1},{"m":"H146Q","w":"Jan 31","n":5,"c":1},{"m":"H146Q","w":"Feb 07","n":7,"c":1},{"m":"H146Q","w":"Feb 14","n":2,"c":1},{"m":"H146Q","w":"Feb 21","n":3,"c":1},{"m":"H146Q","w":"Feb 28","n":2,"c":1},{"m":"H146Q","w":"Mar 07","n":1,"c":1},{"m":"H146Q","w":"Mar 14","n":1,"c":1},{"m":"H146Q","w":"Mar 21","n":1,"c":1},
{"m":"D138Y","w":"Dec 13","n":1,"c":1},{"m":"D138Y","w":"Dec 20","n":13,"c":1},{"m":"D138Y","w":"Dec 27","n":18,"c":1},{"m":"D138Y","w":"Jan 03","n":34,"c":1},{"m":"D138Y","w":"Jan 10","n":29,"c":1},{"m":"D138Y","w":"Jan 17","n":22,"c":1},{"m":"D138Y","w":"Jan 24","n":28,"c":1},{"m":"D138Y","w":"Jan 31","n":25,"c":1},{"m":"D138Y","w":"Feb 07","n":19,"c":1},{"m":"D138Y","w":"Feb 14","n":15,"c":1},{"m":"D138Y","w":"Feb 21","n":9,"c":1},{"m":"D138Y","w":"Feb 28","n":5,"c":1},{"m":"D138Y","w":"Mar 07","n":3,"c":1},{"m":"D138Y","w":"Mar 14","n":1,"c":1},{"m":"D138Y","w":"Mar 21","n":1,"c":1},
{"m":"S151I","w":"Dec 13","n":1,"c":1},{"m":"S151I","w":"Dec 20","n":1,"c":1},{"m":"S151I","w":"Dec 27","n":3,"c":1},{"m":"S151I","w":"Jan 03","n":2,"c":1},{"m":"S151I","w":"Jan 10","n":14,"c":1},{"m":"S151I","w":"Jan 17","n":11,"c":1},{"m":"S151I","w":"Jan 24","n":10,"c":1},{"m":"S151I","w":"Jan 31","n":6,"c":1},{"m":"S151I","w":"Feb 07","n":11,"c":1},{"m":"S151I","w":"Feb 14","n":5,"c":1},{"m":"S151I","w":"Feb 21","n":3,"c":1},{"m":"S151I","w":"Feb 28","n":4,"c":1},{"m":"S151I","w":"Mar 07","n":1,"c":1},{"m":"S151I","w":"Mar 14","n":1,"c":1},{"m":"S151I","w":"Mar 21","n":1,"c":1},
{"m":"F157L","w":"Nov 22","n":1,"c":2},{"m":"F157L","w":"Dec 13","n":7,"c":1},{"m":"F157L","w":"Dec 20","n":9,"c":1},{"m":"F157L","w":"Dec 27","n":13,"c":1},{"m":"F157L","w":"Jan 03","n":14,"c":1},{"m":"F157L","w":"Jan 10","n":12,"c":1},{"m":"F157L","w":"Jan 17","n":15,"c":1},{"m":"F157L","w":"Jan 24","n":16,"c":1},{"m":"F157L","w":"Jan 31","n":23,"c":1},{"m":"F157L","w":"Feb 07","n":18,"c":1},{"m":"F157L","w":"Feb 14","n":13,"c":1},{"m":"F157L","w":"Feb 21","n":7,"c":1},{"m":"F157L","w":"Feb 28","n":18,"c":1},{"m":"F157L","w":"Mar 07","n":4,"c":1},{"m":"F157L","w":"Mar 14","n":1,"c":1},{"m":"F157L","w":"Mar 21","n":1,"c":1},{"m":"F157L","w":"Mar 28","n":2,"c":2},
{"m":"S371F","w":"Dec 20","n":4,"c":1},{"m":"S371F","w":"Dec 27","n":5,"c":1},{"m":"S371F","w":"Jan 03","n":156,"c":1},{"m":"S371F","w":"Jan 10","n":27,"c":1},{"m":"S371F","w":"Jan 17","n":280,"c":1},{"m":"S371F","w":"Jan 24","n":13,"c":1},{"m":"S371F","w":"Jan 31","n":83,"c":1},{"m":"S371F","w":"Feb 07","n":27,"c":1},{"m":"S371F","w":"Feb 14","n":29,"c":1},{"m":"S371F","w":"Feb 21","n":8,"c":1},{"m":"S371F","w":"Feb 28","n":3,"c":1},{"m":"S371F","w":"Mar 07","n":17,"c":1},{"m":"S371F","w":"Mar 14","n":5,"c":1},{"m":"S371F","w":"Mar 21","n":1,"c":1},
{"m":"P809S","w":"Dec 06","n":2,"c":1},{"m":"P809S","w":"Dec 13","n":25,"c":1},{"m":"P809S","w":"Dec 20","n":61,"c":1},{"m":"P809S","w":"Dec 27","n":127,"c":1},{"m":"P809S","w":"Jan 03","n":209,"c":1},{"m":"P809S","w":"Jan 10","n":137,"c":1},{"m":"P809S","w":"Jan 17","n":110,"c":1},{"m":"P809S","w":"Jan 24","n":82,"c":1},{"m":"P809S","w":"Jan 31","n":80,"c":1},{"m":"P809S","w":"Feb 07","n":72,"c":1},{"m":"P809S","w":"Feb 14","n":45,"c":1},{"m":"P809S","w":"Feb 21","n":25,"c":1},{"m":"P809S","w":"Feb 28","n":13,"c":1},{"m":"P809S","w":"Mar 07","n":11,"c":1},{"m":"P809S","w":"Mar 14","n":1,"c":1},{"m":"P809S","w":"Mar 21","n":1,"c":1},
{"m":"H49Y","w":"Dec 06","n":3,"c":1},{"m":"H49Y","w":"Dec 13","n":18,"c":1},{"m":"H49Y","w":"Dec 20","n":24,"c":1},{"m":"H49Y","w":"Dec 27","n":18,"c":1},{"m":"H49Y","w":"Jan 03","n":29,"c":1},{"m":"H49Y","w":"Jan 10","n":22,"c":1},{"m":"H49Y","w":"Jan 17","n":19,"c":1},{"m":"H49Y","w":"Jan 24","n":28,"c":1},{"m":"H49Y","w":"Jan 31","n":29,"c":1},{"m":"H49Y","w":"Feb 07","n":17,"c":1},{"m":"H49Y","w":"Feb 14","n":22,"c":1},{"m":"H49Y","w":"Feb 21","n":21,"c":1},{"m":"H49Y","w":"Feb 28","n":13,"c":1},{"m":"H49Y","w":"Mar 07","n":8,"c":1},{"m":"H49Y","w":"Mar 14","n":4,"c":1},{"m":"H49Y","w":"Mar 21","n":1,"c":1},
{"m":"P272L","w":"Dec 20","n":1,"c":1},{"m":"P272L","w":"Dec 27","n":1,"c":1},{"m":"P272L","w":"Jan 03","n":7,"c":1},{"m":"P272L","w":"Jan 10","n":8,"c":1},{"m":"P272L","w":"Jan 17","n":15,"c":1},{"m":"P272L","w":"Jan 24","n":26,"c":1},{"m":"P272L","w":"Jan 31","n":19,"c":1},{"m":"P272L","w":"Feb 07","n":27,"c":1},{"m":"P272L","w":"Feb 14","n":15,"c":1},{"m":"P272L","w":"Feb 21","n":11,"c":1},{"m":"P272L","w":"Mar 14","n":4,"c":1},{"m":"P272L","w":"Mar 21","n":1,"c":1},
{"m":"T259I","w":"Dec 20","n":2,"c":1},{"m":"T259I","w":"Dec 27","n":1,"c":1},{"m":"T259I","w":"Jan 03","n":6,"c":1},{"m":"T259I","w":"Jan 10","n":1,"c":1},{"m":"T259I","w":"Jan 17","n":7,"c":1},{"m":"T259I","w":"Jan 24","n":12,"c":1},{"m":"T259I","w":"Jan 31","n":18,"c":1},{"m":"T259I","w":"Feb 07","n":15,"c":1},{"m":"T259I","w":"Feb 14","n":10,"c":1},{"m":"T259I","w":"Feb 21","n":3,"c":1},{"m":"T259I","w":"Feb 28","n":2,"c":1},{"m":"T259I","w":"Mar 07","n":8,"c":1},{"m":"T259I","w":"Mar 14","n":8,"c":1},{"m":"T259I","w":"Mar 21","n":1,"c":1},
{"m":"T732I","w":"Dec 06","n":1,"c":1},{"m":"T732I","w":"Dec 13","n":3,"c":1},{"m":"T732I","w":"Dec 20","n":10,"c":1},{"m":"T732I","w":"Dec 27","n":8,"c":1},{"m":"T732I","w":"Jan 03","n":11,"c":1},{"m":"T732I","w":"Jan 10","n":8,"c":1},{"m":"T732I","w":"Jan 17","n":14,"c":1},{"m":"T732I","w":"Jan 24","n":19,"c":1},{"m":"T732I","w":"Jan 31","n":13,"c":1},{"m":"T732I","w":"Feb 07","n":21,"c":1},{"m":"T732I","w":"Feb 14","n":16,"c":1},{"m":"T732I","w":"Feb 21","n":1,"c":1},{"m":"T732I","w":"Feb 28","n":7,"c":1},{"m":"T732I","w":"Mar 07","n":8,"c":1},{"m":"T732I","w":"Mar 14","n":4,"c":1},{"m":"T732I","w":"Mar 21","n":1,"c":1},{"m":"T732I","w":"Mar 28","n":1,"c":1},
{"m":"D1084E","w":"Nov 29","n":1,"c":1},{"m":"D1084E","w":"Dec 06","n":46,"c":1},{"m":"D1084E","w":"Dec 13","n":99,"c":1},{"m":"D1084E","w":"Dec 20","n":61,"c":1},{"m":"D1084E","w":"Dec 27","n":118,"c":1},{"m":"D1084E","w":"Jan 03","n":123,"c":1},{"m":"D1084E","w":"Jan 10","n":93,"c":1},{"m":"D1084E","w":"Jan 17","n":69,"c":1},{"m":"D1084E","w":"Jan 24","n":43,"c":1},{"m":"D1084E","w":"Jan 31","n":42,"c":1},{"m":"D1084E","w":"Feb 07","n":42,"c":1},{"m":"D1084E","w":"Feb 14","n":31,"c":1},{"m":"D1084E","w":"Feb 21","n":23,"c":1},{"m":"D1084E","w":"Feb 28","n":5,"c":1},{"m":"D1084E","w":"Mar 14","n":3,"c":1},{"m":"D1084E","w":"Mar 21","n":2,"c":1},
{"m":"P1263L","w":"Nov 29","n":1,"c":1},{"m":"P1263L","w":"Dec 06","n":7,"c":1},{"m":"P1263L","w":"Dec 13","n":17,"c":1},{"m":"P1263L","w":"Dec 20","n":14,"c":1},{"m":"P1263L","w":"Dec 27","n":46,"c":1},{"m":"P1263L","w":"Jan 03","n":45,"c":1},{"m":"P1263L","w":"Jan 10","n":63,"c":1},{"m":"P1263L","w":"Jan 17","n":43,"c":1},{"m":"P1263L","w":"Jan 24","n":71,"c":1},{"m":"P1263L","w":"Jan 31","n":69,"c":1},{"m":"P1263L","w":"Feb 07","n":59,"c":1},{"m":"P1263L","w":"Feb 14","n":26,"c":1},{"m":"P1263L","w":"Feb 21","n":14,"c":1},{"m":"P1263L","w":"Feb 28","n":20,"c":1},{"m":"P1263L","w":"Mar 07","n":25,"c":1},{"m":"P1263L","w":"Mar 14","n":8,"c":1},{"m":"P1263L","w":"Mar 21","n":2,"c":1},
{"m":"S884F","w":"Dec 13","n":7,"c":1},{"m":"S884F","w":"Dec 20","n":7,"c":1},{"m":"S884F","w":"Dec 27","n":7,"c":1},{"m":"S884F","w":"Jan 03","n":15,"c":1},{"m":"S884F","w":"Jan 10","n":13,"c":1},{"m":"S884F","w":"Jan 17","n":8,"c":1},{"m":"S884F","w":"Jan 24","n":19,"c":1},{"m":"S884F","w":"Jan 31","n":5,"c":1},{"m":"S884F","w":"Feb 07","n":36,"c":1},{"m":"S884F","w":"Feb 14","n":39,"c":1},{"m":"S884F","w":"Feb 21","n":10,"c":1},{"m":"S884F","w":"Feb 28","n":3,"c":1},{"m":"S884F","w":"Mar 07","n":3,"c":1},{"m":"S884F","w":"Mar 14","n":3,"c":1},{"m":"S884F","w":"Mar 21","n":2,"c":1},
{"m":"L938F","w":"Dec 06","n":1,"c":1},{"m":"L938F","w":"Dec 13","n":1,"c":1},{"m":"L938F","w":"Dec 20","n":9,"c":1},{"m":"L938F","w":"Dec 27","n":11,"c":1},{"m":"L938F","w":"Jan 03","n":12,"c":1},{"m":"L938F","w":"Jan 10","n":24,"c":1},{"m":"L938F","w":"Jan 17","n":29,"c":1},{"m":"L938F","w":"Jan 24","n":23,"c":1},{"m":"L938F","w":"Jan 31","n":23,"c":1},{"m":"L938F","w":"Feb 07","n":23,"c":1},{"m":"L938F","w":"Feb 14","n":18,"c":1},{"m":"L938F","w":"Feb 21","n":5,"c":1},{"m":"L938F","w":"Feb 28","n":9,"c":1},{"m":"L938F","w":"Mar 07","n":10,"c":1},{"m":"L938F","w":"Mar 14","n":2,"c":1},{"m":"L938F","w":"Mar 21","n":2,"c":1},
{"m":"T323I","w":"Nov 29","n":4,"c":1},{"m":"T323I","w":"Dec 06","n":2,"c":1},{"m":"T323I","w":"Dec 13","n":13,"c":1},{"m":"T323I","w":"Dec 20","n":10,"c":1},{"m":"T323I","w":"Dec 27","n":41,"c":1},{"m":"T323I","w":"Jan 03","n":45,"c":1},{"m":"T323I","w":"Jan 10","n":54,"c":1},{"m":"T323I","w":"Jan 17","n":59,"c":1},{"m":"T323I","w":"Jan 24","n":45,"c":1},{"m":"T323I","w":"Jan 31","n":52,"c":1},{"m":"T323I","w":"Feb 07","n":50,"c":1},{"m":"T323I","w":"Feb 14","n":29,"c":1},{"m":"T323I","w":"Feb 21","n":16,"c":1},{"m":"T323I","w":"Feb 28","n":13,"c":1},{"m":"T323I","w":"Mar 07","n":2,"c":1},{"m":"T323I","w":"Mar 14","n":2,"c":1},{"m":"T323I","w":"Mar 21","n":2,"c":1},
{"m":"A672V","w":"Dec 06","n":1,"c":1},{"m":"A672V","w":"Dec 13","n":10,"c":1},{"m":"A672V","w":"Dec 20","n":17,"c":1},{"m":"A672V","w":"Dec 27","n":31,"c":1},{"m":"A672V","w":"Jan 03","n":54,"c":1},{"m":"A672V","w":"Jan 10","n":54,"c":1},{"m":"A672V","w":"Jan 17","n":39,"c":1},{"m":"A672V","w":"Jan 24","n":66,"c":1},{"m":"A672V","w":"Jan 31","n":78,"c":1},{"m":"A672V","w":"Feb 07","n":65,"c":1},{"m":"A672V","w":"Feb 14","n":37,"c":1},{"m":"A672V","w":"Feb 21","n":35,"c":1},{"m":"A672V","w":"Feb 28","n":8,"c":1},{"m":"A672V","w":"Mar 07","n":15,"c":1},{"m":"A672V","w":"Mar 14","n":6,"c":1},{"m":"A672V","w":"Mar 21","n":3,"c":1},
{"m":"L24S","w":"Nov 29","n":1,"c":1},{"m":"L24S","w":"Dec 06","n":1,"c":1},{"m":"L24S","w":"Dec 13","n":1,"c":1},{"m":"L24S","w":"Dec 20","n":2,"c":1},{"m":"L24S","w":"Dec 27","n":1,"c":1},{"m":"L24S","w":"Jan 03","n":7,"c":1},{"m":"L24S","w":"Jan 10","n":3,"c":1},{"m":"L24S","w":"Jan 17","n":13,"c":1},{"m":"L24S","w":"Jan 24","n":7,"c":1},{"m":"L24S","w":"Jan 31","n":22,"c":1},{"m":"L24S","w":"Feb 07","n":17,"c":1},{"m":"L24S","w":"Feb 14","n":24,"c":1},{"m":"L24S","w":"Feb 21","n":17,"c":1},{"m":"L24S","w":"Feb 28","n":6,"c":1},{"m":"L24S","w":"Mar 07","n":10,"c":1},{"m":"L24S","w":"Mar 14","n":4,"c":1},{"m":"L24S","w":"Mar 21","n":3,"c":1},
{"m":"E309Q","w":"Nov 29","n":17,"c":3},{"m":"E309Q","w":"Dec 06","n":95,"c":2},{"m":"E309Q","w":"Dec 13","n":102,"c":1},{"m":"E309Q","w":"Dec 20","n":176,"c":1},{"m":"E309Q","w":"Dec 27","n":349,"c":1},{"m":"E309Q","w":"Jan 03","n":404,"c":1},{"m":"E309Q","w":"Jan 10","n":386,"c":2},{"m":"E309Q","w":"Jan 17","n":389,"c":2},{"m":"E309Q","w":"Jan 24","n":223,"c":1},{"m":"E309Q","w":"Jan 31","n":239,"c":1},{"m":"E309Q","w":"Feb 07","n":200,"c":1},{"m":"E309Q","w":"Feb 14","n":124,"c":1},{"m":"E309Q","w":"Feb 21","n":60,"c":1},{"m":"E309Q","w":"Feb 28","n":30,"c":1},{"m":"E309Q","w":"Mar 07","n":23,"c":1},{"m":"E309Q","w":"Mar 14","n":8,"c":1},{"m":"E309Q","w":"Mar 21","n":3,"c":1},{"m":"E309Q","w":"Mar 28","n":1,"c":1},
{"m":"K854N","w":"Dec 06","n":6,"c":1},{"m":"K854N","w":"Dec 13","n":100,"c":1},{"m":"K854N","w":"Dec 20","n":116,"c":1},{"m":"K854N","w":"Dec 27","n":319,"c":1},{"m":"K854N","w":"Jan 03","n":262,"c":1},{"m":"K854N","w":"Jan 10","n":235,"c":1},{"m":"K854N","w":"Jan 17","n":266,"c":1},{"m":"K854N","w":"Jan 24","n":202,"c":1},{"m":"K854N","w":"Jan 31","n":247,"c":1},{"m":"K854N","w":"Feb 07","n":218,"c":1},{"m":"K854N","w":"Feb 14","n":184,"c":1},{"m":"K854N","w":"Feb 21","n":104,"c":1},{"m":"K854N","w":"Feb 28","n":23,"c":1},{"m":"K854N","w":"Mar 07","n":26,"c":1},{"m":"K854N","w":"Mar 14","n":11,"c":1},{"m":"K854N","w":"Mar 21","n":3,"c":1},
{"m":"H245Y","w":"Dec 06","n":1,"c":1},{"m":"H245Y","w":"Dec 13","n":17,"c":1},{"m":"H245Y","w":"Dec 20","n":20,"c":1},{"m":"H245Y","w":"Dec 27","n":20,"c":1},{"m":"H245Y","w":"Jan 03","n":26,"c":1},{"m":"H245Y","w":"Jan 10","n":23,"c":1},{"m":"H245Y","w":"Jan 17","n":39,"c":1},{"m":"H245Y","w":"Jan 24","n":36,"c":1},{"m":"H245Y","w":"Jan 31","n":31,"c":1},{"m":"H245Y","w":"Feb 07","n":44,"c":1},{"m":"H245Y","w":"Feb 14","n":35,"c":1},{"m":"H245Y","w":"Feb 21","n":31,"c":1},{"m":"H245Y","w":"Feb 28","n":22,"c":1},{"m":"H245Y","w":"Mar 07","n":13,"c":1},{"m":"H245Y","w":"Mar 14","n":5,"c":1},{"m":"H245Y","w":"Mar 21","n":3,"c":1},{"m":"H245Y","w":"Mar 28","n":2,"c":2},
{"m":"D950N","w":"Dec 06","n":1,"c":1},{"m":"D950N","w":"Dec 13","n":1,"c":1},{"m":"D950N","w":"Dec 20","n":7,"c":1},{"m":"D950N","w":"Dec 27","n":5,"c":1},{"m":"D950N","w":"Jan 03","n":7,"c":1},{"m":"D950N","w":"Jan 10","n":4,"c":1},{"m":"D950N","w":"Jan 17","n":6,"c":1},{"m":"D950N","w":"Jan 24","n":2,"c":1},{"m":"D950N","w":"Jan 31","n":6,"c":1},{"m":"D950N","w":"Feb 07","n":10,"c":1},{"m":"D950N","w":"Feb 14","n":22,"c":1},{"m":"D950N","w":"Feb 21","n":15,"c":1},{"m":"D950N","w":"Feb 28","n":2,"c":1},{"m":"D950N","w":"Mar 07","n":9,"c":1},{"m":"D950N","w":"Mar 14","n":11,"c":1},{"m":"D950N","w":"Mar 21","n":4,"c":1},
{"m":"N354K","w":"Dec 13","n":1,"c":1},{"m":"N354K","w":"Dec 27","n":1,"c":1},{"m":"N354K","w":"Jan 03","n":14,"c":1},{"m":"N354K","w":"Jan 10","n":19,"c":1},{"m":"N354K","w":"Jan 17","n":16,"c":1},{"m":"N354K","w":"Jan 24","n":23,"c":1},{"m":"N354K","w":"Jan 31","n":24,"c":1},{"m":"N354K","w":"Feb 07","n":10,"c":1},{"m":"N354K","w":"Feb 14","n":24,"c":1},{"m":"N354K","w":"Feb 21","n":7,"c":1},{"m":"N354K","w":"Feb 28","n":5,"c":1},{"m":"N354K","w":"Mar 07","n":4,"c":1},{"m":"N354K","w":"Mar 14","n":5,"c":1},{"m":"N354K","w":"Mar 21","n":4,"c":1},
{"m":"S256L","w":"Nov 29","n":4,"c":1},{"m":"S256L","w":"Dec 06","n":1,"c":1},{"m":"S256L","w":"Dec 13","n":5,"c":1},{"m":"S256L","w":"Dec 20","n":4,"c":1},{"m":"S256L","w":"Dec 27","n":11,"c":1},{"m":"S256L","w":"Jan 03","n":17,"c":1},{"m":"S256L","w":"Jan 10","n":16,"c":1},{"m":"S256L","w":"Jan 17","n":28,"c":1},{"m":"S256L","w":"Jan 24","n":18,"c":1},{"m":"S256L","w":"Jan 31","n":35,"c":1},{"m":"S256L","w":"Feb 07","n":11,"c":1},{"m":"S256L","w":"Feb 14","n":8,"c":1},{"m":"S256L","w":"Feb 21","n":12,"c":1},{"m":"S256L","w":"Feb 28","n":5,"c":1},{"m":"S256L","w":"Mar 07","n":6,"c":1},{"m":"S256L","w":"Mar 14","n":5,"c":1},{"m":"S256L","w":"Mar 21","n":4,"c":1},
{"m":"Q628E","w":"Dec 20","n":1,"c":1},{"m":"Q628E","w":"Dec 27","n":6,"c":1},{"m":"Q628E","w":"Jan 03","n":15,"c":1},{"m":"Q628E","w":"Jan 10","n":4,"c":1},{"m":"Q628E","w":"Jan 17","n":19,"c":1},{"m":"Q628E","w":"Jan 24","n":25,"c":1},{"m":"Q628E","w":"Jan 31","n":30,"c":1},{"m":"Q628E","w":"Feb 07","n":32,"c":1},{"m":"Q628E","w":"Feb 14","n":26,"c":1},{"m":"Q628E","w":"Feb 21","n":19,"c":1},{"m":"Q628E","w":"Feb 28","n":23,"c":1},{"m":"Q628E","w":"Mar 07","n":12,"c":1},{"m":"Q628E","w":"Mar 14","n":13,"c":1},{"m":"Q628E","w":"Mar 21","n":6,"c":1},{"m":"Q628E","w":"Mar 28","n":2,"c":2},
{"m":"A27S","w":"Nov 22","n":1,"c":1},{"m":"A27S","w":"Dec 20","n":3,"c":1},{"m":"A27S","w":"Dec 27","n":12,"c":1},{"m":"A27S","w":"Jan 03","n":10,"c":1},{"m":"A27S","w":"Jan 10","n":12,"c":1},{"m":"A27S","w":"Jan 17","n":19,"c":1},{"m":"A27S","w":"Jan 24","n":22,"c":1},{"m":"A27S","w":"Jan 31","n":31,"c":1},{"m":"A27S","w":"Feb 07","n":31,"c":1},{"m":"A27S","w":"Feb 14","n":18,"c":1},{"m":"A27S","w":"Feb 21","n":13,"c":1},{"m":"A27S","w":"Feb 28","n":8,"c":1},{"m":"A27S","w":"Mar 07","n":4,"c":1},{"m":"A27S","w":"Mar 14","n":9,"c":1},{"m":"A27S","w":"Mar 21","n":6,"c":1},
{"m":"C136F","w":"Dec 20","n":1,"c":1},{"m":"C136F","w":"Jan 03","n":2,"c":1},{"m":"C136F","w":"Jan 17","n":2,"c":1},{"m":"C136F","w":"Jan 24","n":1,"c":1},{"m":"C136F","w":"Jan 31","n":15,"c":1},{"m":"C136F","w":"Feb 07","n":11,"c":1},{"m":"C136F","w":"Feb 14","n":3,"c":1},{"m":"C136F","w":"Feb 21","n":4,"c":1},{"m":"C136F","w":"Feb 28","n":4,"c":1},{"m":"C136F","w":"Mar 07","n":14,"c":1},{"m":"C136F","w":"Mar 14","n":18,"c":1},{"m":"C136F","w":"Mar 21","n":6,"c":1},{"m":"C136F","w":"Mar 28","n":1,"c":1},
{"m":"T76I","w":"Nov 22","n":1,"c":1},{"m":"T76I","w":"Nov 29","n":1,"c":1},{"m":"T76I","w":"Dec 13","n":11,"c":1},{"m":"T76I","w":"Dec 20","n":15,"c":1},{"m":"T76I","w":"Dec 27","n":26,"c":1},{"m":"T76I","w":"Jan 03","n":32,"c":1},{"m":"T76I","w":"Jan 10","n":20,"c":1},{"m":"T76I","w":"Jan 17","n":29,"c":1},{"m":"T76I","w":"Jan 24","n":40,"c":1},{"m":"T76I","w":"Jan 31","n":44,"c":1},{"m":"T76I","w":"Feb 07","n":34,"c":1},{"m":"T76I","w":"Feb 14","n":57,"c":1},{"m":"T76I","w":"Feb 21","n":35,"c":1},{"m":"T76I","w":"Feb 28","n":22,"c":1},{"m":"T76I","w":"Mar 07","n":24,"c":1},{"m":"T76I","w":"Mar 14","n":31,"c":1},{"m":"T76I","w":"Mar 21","n":6,"c":1},
{"m":"A831V","w":"Dec 06","n":4,"c":1},{"m":"A831V","w":"Dec 13","n":41,"c":1},{"m":"A831V","w":"Dec 20","n":57,"c":1},{"m":"A831V","w":"Dec 27","n":113,"c":1},{"m":"A831V","w":"Jan 03","n":153,"c":1},{"m":"A831V","w":"Jan 10","n":167,"c":1},{"m":"A831V","w":"Jan 17","n":205,"c":1},{"m":"A831V","w":"Jan 24","n":210,"c":1},{"m":"A831V","w":"Jan 31","n":194,"c":1},{"m":"A831V","w":"Feb 07","n":182,"c":1},{"m":"A831V","w":"Feb 14","n":140,"c":1},{"m":"A831V","w":"Feb 21","n":79,"c":1},{"m":"A831V","w":"Feb 28","n":39,"c":1},{"m":"A831V","w":"Mar 07","n":31,"c":1},{"m":"A831V","w":"Mar 14","n":19,"c":1},{"m":"A831V","w":"Mar 21","n":9,"c":1},{"m":"A831V","w":"Mar 28","n":3,"c":2},
{"m":"S704L","w":"Dec 06","n":1,"c":1},{"m":"S704L","w":"Dec 13","n":13,"c":1},{"m":"S704L","w":"Dec 20","n":11,"c":1},{"m":"S704L","w":"Dec 27","n":18,"c":1},{"m":"S704L","w":"Jan 03","n":25,"c":1},{"m":"S704L","w":"Jan 10","n":45,"c":1},{"m":"S704L","w":"Jan 17","n":85,"c":1},{"m":"S704L","w":"Jan 24","n":69,"c":1},{"m":"S704L","w":"Jan 31","n":96,"c":1},{"m":"S704L","w":"Feb 07","n":106,"c":1},{"m":"S704L","w":"Feb 14","n":85,"c":1},{"m":"S704L","w":"Feb 21","n":45,"c":1},{"m":"S704L","w":"Feb 28","n":29,"c":1},{"m":"S704L","w":"Mar 07","n":24,"c":1},{"m":"S704L","w":"Mar 14","n":13,"c":1},{"m":"S704L","w":"Mar 21","n":10,"c":1},{"m":"S704L","w":"Mar 28","n":2,"c":2},
{"m":"L18P","w":"Nov 29","n":6,"c":1},{"m":"L18P","w":"Dec 06","n":18,"c":1},{"m":"L18P","w":"Dec 13","n":53,"c":1},{"m":"L18P","w":"Dec 20","n":67,"c":1},{"m":"L18P","w":"Dec 27","n":133,"c":1},{"m":"L18P","w":"Jan 03","n":163,"c":1},{"m":"L18P","w":"Jan 10","n":144,"c":1},{"m":"L18P","w":"Jan 17","n":198,"c":1},{"m":"L18P","w":"Jan 24","n":194,"c":1},{"m":"L18P","w":"Jan 31","n":224,"c":1},{"m":"L18P","w":"Feb 07","n":280,"c":1},{"m":"L18P","w":"Feb 14","n":213,"c":1},{"m":"L18P","w":"Feb 21","n":137,"c":1},{"m":"L18P","w":"Feb 28","n":74,"c":1},{"m":"L18P","w":"Mar 07","n":54,"c":1},{"m":"L18P","w":"Mar 14","n":21,"c":1},{"m":"L18P","w":"Mar 21","n":11,"c":1},{"m":"L18P","w":"Mar 28","n":4,"c":3},
{"m":"M740I","w":"Dec 13","n":1,"c":1},{"m":"M740I","w":"Dec 20","n":6,"c":1},{"m":"M740I","w":"Dec 27","n":11,"c":1},{"m":"M740I","w":"Jan 03","n":34,"c":1},{"m":"M740I","w":"Jan 10","n":42,"c":1},{"m":"M740I","w":"Jan 17","n":63,"c":1},{"m":"M740I","w":"Jan 24","n":92,"c":1},{"m":"M740I","w":"Jan 31","n":75,"c":1},{"m":"M740I","w":"Feb 07","n":75,"c":1},{"m":"M740I","w":"Feb 14","n":67,"c":1},{"m":"M740I","w":"Feb 21","n":37,"c":1},{"m":"M740I","w":"Feb 28","n":29,"c":1},{"m":"M740I","w":"Mar 07","n":25,"c":1},{"m":"M740I","w":"Mar 14","n":16,"c":1},{"m":"M740I","w":"Mar 21","n":10,"c":1},
{"m":"V1264M","w":"Nov 29","n":4,"c":1},{"m":"V1264M","w":"Dec 06","n":94,"c":2},{"m":"V1264M","w":"Dec 13","n":463,"c":2},{"m":"V1264M","w":"Dec 20","n":388,"c":2},{"m":"V1264M","w":"Dec 27","n":565,"c":2},{"m":"V1264M","w":"Jan 03","n":528,"c":2},{"m":"V1264M","w":"Jan 10","n":390,"c":2},{"m":"V1264M","w":"Jan 17","n":357,"c":1},{"m":"V1264M","w":"Jan 24","n":252,"c":1},{"m":"V1264M","w":"Jan 31","n":223,"c":1},{"m":"V1264M","w":"Feb 07","n":173,"c":1},{"m":"V1264M","w":"Feb 14","n":115,"c":1},{"m":"V1264M","w":"Feb 21","n":48,"c":1},{"m":"V1264M","w":"Feb 28","n":27,"c":1},{"m":"V1264M","w":"Mar 07","n":24,"c":1},{"m":"V1264M","w":"Mar 14","n":15,"c":1},{"m":"V1264M","w":"Mar 21","n":14,"c":1},{"m":"V1264M","w":"Mar 28","n":2,"c":2},
{"m":"I1081V","w":"Nov 15","n":1,"c":4},{"m":"I1081V","w":"Nov 22","n":1,"c":1},{"m":"I1081V","w":"Nov 29","n":103,"c":4},{"m":"I1081V","w":"Dec 06","n":1296,"c":5},{"m":"I1081V","w":"Dec 13","n":5010,"c":5},{"m":"I1081V","w":"Dec 20","n":4397,"c":4},{"m":"I1081V","w":"Dec 27","n":6192,"c":4},{"m":"I1081V","w":"Jan 03","n":6239,"c":4},{"m":"I1081V","w":"Jan 10","n":4840,"c":4},{"m":"I1081V","w":"Jan 17","n":4354,"c":4},{"m":"I1081V","w":"Jan 24","n":3323,"c":3},{"m":"I1081V","w":"Jan 31","n":3007,"c":3},{"m":"I1081V","w":"Feb 07","n":2038,"c":3},{"m":"I1081V","w":"Feb 14","n":1252,"c":3},{"m":"I1081V","w":"Feb 21","n":615,"c":3},{"m":"I1081V","w":"Feb 28","n":352,"c":3},{"m":"I1081V","w":"Mar 07","n":168,"c":3},{"m":"I1081V","w":"Mar 14","n":82,"c":3},{"m":"I1081V","w":"Mar 21","n":26,"c":2},{"m":"I1081V","w":"Mar 28","n":2,"c":2},
{"m":"F643L","w":"Nov 29","n":2,"c":1},{"m":"F643L","w":"Dec 06","n":13,"c":1},{"m":"F643L","w":"Dec 13","n":60,"c":1},{"m":"F643L","w":"Dec 20","n":114,"c":1},{"m":"F643L","w":"Dec 27","n":275,"c":1},{"m":"F643L","w":"Jan 03","n":430,"c":1},{"m":"F643L","w":"Jan 10","n":452,"c":2},{"m":"F643L","w":"Jan 17","n":602,"c":2},{"m":"F643L","w":"Jan 24","n":501,"c":2},{"m":"F643L","w":"Jan 31","n":593,"c":2},{"m":"F643L","w":"Feb 07","n":612,"c":2},{"m":"F643L","w":"Feb 14","n":477,"c":2},{"m":"F643L","w":"Feb 21","n":285,"c":3},{"m":"F643L","w":"Feb 28","n":205,"c":3},{"m":"F643L","w":"Mar 07","n":188,"c":3},{"m":"F643L","w":"Mar 14","n":83,"c":3},{"m":"F643L","w":"Mar 21","n":33,"c":3},{"m":"F643L","w":"Mar 28","n":6,"c":3},
{"m":"L5F","w":"Nov 29","n":1,"c":1},{"m":"L5F","w":"Dec 06","n":13,"c":1},{"m":"L5F","w":"Dec 13","n":122,"c":1},{"m":"L5F","w":"Dec 20","n":205,"c":1},{"m":"L5F","w":"Dec 27","n":429,"c":2},{"m":"L5F","w":"Jan 03","n":568,"c":2},{"m":"L5F","w":"Jan 10","n":567,"c":2},{"m":"L5F","w":"Jan 17","n":685,"c":2},{"m":"L5F","w":"Jan 24","n":618,"c":2},{"m":"L5F","w":"Jan 31","n":749,"c":3},{"m":"L5F","w":"Feb 07","n":767,"c":3},{"m":"L5F","w":"Feb 14","n":621,"c":3},{"m":"L5F","w":"Feb 21","n":356,"c":3},{"m":"L5F","w":"Feb 28","n":214,"c":3},{"m":"L5F","w":"Mar 07","n":190,"c":3},{"m":"L5F","w":"Mar 14","n":127,"c":3},{"m":"L5F","w":"Mar 21","n":37,"c":3},{"m":"L5F","w":"Mar 28","n":5,"c":3},
{"m":"Q628K","w":"Dec 06","n":7,"c":1},{"m":"Q628K","w":"Dec 13","n":52,"c":1},{"m":"Q628K","w":"Dec 20","n":46,"c":1},{"m":"Q628K","w":"Dec 27","n":179,"c":1},{"m":"Q628K","w":"Jan 03","n":464,"c":1},{"m":"Q628K","w":"Jan 10","n":595,"c":2},{"m":"Q628K","w":"Jan 17","n":639,"c":2},{"m":"Q628K","w":"Jan 24","n":778,"c":3},{"m":"Q628K","w":"Jan 31","n":962,"c":3},{"m":"Q628K","w":"Feb 07","n":1001,"c":3},{"m":"Q628K","w":"Feb 14","n":850,"c":3},{"m":"Q628K","w":"Feb 21","n":524,"c":3},{"m":"Q628K","w":"Feb 28","n":363,"c":3},{"m":"Q628K","w":"Mar 07","n":324,"c":3},{"m":"Q628K","w":"Mar 14","n":215,"c":3},{"m":"Q628K","w":"Mar 21","n":99,"c":3},{"m":"Q628K","w":"Mar 28","n":13,"c":3},
{"m":"A701V","w":"Nov 15","n":4,"c":6},{"m":"A701V","w":"Nov 22","n":27,"c":5},{"m":"A701V","w":"Nov 29","n":334,"c":6},{"m":"A701V","w":"Dec 06","n":3193,"c":6},{"m":"A701V","w":"Dec 13","n":12480,"c":6},{"m":"A701V","w":"Dec 20","n":14012,"c":6},{"m":"A701V","w":"Dec 27","n":19877,"c":6},{"m":"A701V","w":"Jan 03","n":19925,"c":6},{"m":"A701V","w":"Jan 10","n":17439,"c":5},{"m":"A701V","w":"Jan 17","n":15766,"c":5},{"m":"A701V","w":"Jan 24","n":11771,"c":5},{"m":"A701V","w":"Jan 31","n":10782,"c":5},{"m":"A701V","w":"Feb 07","n":8146,"c":5},{"m":"A701V","w":"Feb 14","n":5440,"c":5},{"m":"A701V","w":"Feb 21","n":2610,"c":5},{"m":"A701V","w":"Feb 28","n":1393,"c":4},{"m":"A701V","w":"Mar 07","n":986,"c":4},{"m":"A701V","w":"Mar 14","n":571,"c":4},{"m":"A701V","w":"Mar 21","n":257,"c":4},{"m":"A701V","w":"Mar 28","n":25,"c":4},
{"m":"Y145D","w":"Nov 29","n":1,"c":8},{"m":"Y145D","w":"Dec 06","n":7,"c":8},{"m":"Y145D","w":"Dec 13","n":9,"c":5},{"m":"Y145D","w":"Dec 20","n":25,"c":5},{"m":"Y145D","w":"Dec 27","n":33,"c":4},{"m":"Y145D","w":"Jan 03","n":57,"c":4},{"m":"Y145D","w":"Jan 10","n":33,"c":5},{"m":"Y145D","w":"Jan 17","n":37,"c":5},{"m":"Y145D","w":"Jan 24","n":40,"c":5},{"m":"Y145D","w":"Jan 31","n":46,"c":5},{"m":"Y145D","w":"Feb 07","n":34,"c":5},{"m":"Y145D","w":"Feb 14","n":19,"c":4},{"m":"Y145D","w":"Feb 21","n":12,"c":5},{"m":"Y145D","w":"Feb 28","n":5,"c":5},{"m":"Y145D","w":"Mar 07","n":3,"c":4},{"m":"Y145D","w":"Mar 14","n":9,"c":6},{"m":"Y145D","w":"Mar 21","n":2,"c":6},
{"m":"Y145N","w":"Dec 20","n":2,"c":3},{"m":"Y145N","w":"Dec 27","n":2,"c":1},{"m":"Y145N","w":"Jan 03","n":3,"c":1},{"m":"Y145N","w":"Jan 10","n":9,"c":2},{"m":"Y145N","w":"Jan 17","n":35,"c":5},{"m":"Y145N","w":"Jan 24","n":33,"c":5},{"m":"Y145N","w":"Jan 31","n":20,"c":4},{"m":"Y145N","w":"Feb 07","n":23,"c":4},{"m":"Y145N","w":"Feb 14","n":34,"c":5},{"m":"Y145N","w":"Feb 21","n":18,"c":5},{"m":"Y145N","w":"Feb 28","n":6,"c":6},{"m":"Y145N","w":"Mar 07","n":8,"c":5},{"m":"Y145N","w":"Mar 14","n":3,"c":6},{"m":"Y145N","w":"Mar 21","n":3,"c":6},
{"m":"R346K","w":"Nov 08","n":1,"c":8},{"m":"R346K","w":"Nov 15","n":1,"c":4},{"m":"R346K","w":"Nov 22","n":20,"c":4},{"m":"R346K","w":"Nov 29","n":128,"c":4},{"m":"R346K","w":"Dec 06","n":948,"c":4},{"m":"R346K","w":"Dec 13","n":4703,"c":4},{"m":"R346K","w":"Dec 20","n":6257,"c":5},{"m":"R346K","w":"Dec 27","n":14213,"c":5},{"m":"R346K","w":"Jan 03","n":20345,"c":5},{"m":"R346K","w":"Jan 10","n":20121,"c":5},{"m":"R346K","w":"Jan 17","n":26099,"c":6},{"m":"R346K","w":"Jan 24","n":27072,"c":6},{"m":"R346K","w":"Jan 31","n":34006,"c":6},{"m":"R346K","w":"Feb 07","n":33155,"c":7},{"m":"R346K","w":"Feb 14","n":27905,"c":7},{"m":"R346K","w":"Feb 21","n":17517,"c":7},{"m":"R346K","w":"Feb 28","n":12352,"c":7},{"m":"R346K","w":"Mar 07","n":9678,"c":7},{"m":"R346K","w":"Mar 14","n":5603,"c":7},{"m":"R346K","w":"Mar 21","n":2287,"c":7},{"m":"R346K","w":"Mar 28","n":262,"c":7}],
"h2":[
{"m":"V213G","w":"Jan 03","n":142,"c":1},{"m":"V213G","w":"Jan 10","n":11,"c":1},{"m":"V213G","w":"Jan 17","n":265,"c":1},{"m":"V213G","w":"Jan 24","n":2,"c":1},{"m":"V213G","w":"Jan 31","n":6,"c":1},{"m":"V213G","w":"Feb 07","n":10,"c":1},{"m":"V213G","w":"Feb 14","n":22,"c":1},{"m":"V213G","w":"Feb 21","n":2,"c":1},{"m":"V213G","w":"Feb 28","n":2,"c":1},{"m":"V213G","w":"Mar 07","n":16,"c":1},{"m":"V213G","w":"Mar 14","n":3,"c":1},
{"m":"G142D","w":"Dec 06","n":1,"c":6},{"m":"G142D","w":"Dec 13","n":4,"c":5},{"m":"G142D","w":"Dec 20","n":11,"c":5},{"m":"G142D","w":"Dec 27","n":12,"c":4},{"m":"G142D","w":"Jan 03","n":14,"c":3},{"m":"G142D","w":"Jan 10","n":3,"c":3},{"m":"G142D","w":"Jan 17","n":4,"c":6},{"m":"G142D","w":"Jan 24","n":7,"c":6},{"m":"G142D","w":"Jan 31","n":34,"c":7},{"m":"G142D","w":"Feb 07","n":54,"c":8},{"m":"G142D","w":"Feb 14","n":34,"c":8},{"m":"G142D","w":"Feb 21","n":5,"c":6},{"m":"G142D","w":"Feb 28","n":2,"c":6},{"m":"G142D","w":"Mar 07","n":15,"c":8},{"m":"G142D","w":"Mar 14","n":4,"c":8},
{"m":"G446S","w":"Nov 15","n":4,"c":8},{"m":"G446S","w":"Nov 22","n":25,"c":8},{"m":"G446S","w":"Nov 29","n":76,"c":8},{"m":"G446S","w":"Dec 06","n":430,"c":8},{"m":"G446S","w":"Dec 13","n":4168,"c":8},{"m":"G446S","w":"Dec 20","n":13454,"c":8},{"m":"G446S","w":"Dec 27","n":10905,"c":8},{"m":"G446S","w":"Jan 03","n":26941,"c":8},{"m":"G446S","w":"Jan 10","n":56194,"c":8},{"m":"G446S","w":"Jan 17","n":57348,"c":8},{"m":"G446S","w":"Jan 24","n":52639,"c":8},{"m":"G446S","w":"Jan 31","n":63991,"c":8},{"m":"G446S","w":"Feb 07","n":56180,"c":8},{"m":"G446S","w":"Feb 14","n":43105,"c":8},{"m":"G446S","w":"Feb 21","n":24660,"c":8},{"m":"G446S","w":"Feb 28","n":15405,"c":8},{"m":"G446S","w":"Mar 07","n":11591,"c":8},{"m":"G446S","w":"Mar 14","n":6751,"c":8},{"m":"G446S","w":"Mar 21","n":2745,"c":8},{"m":"G446S","w":"Mar 28","n":304,"c":8},
{"m":"E484A","w":"Nov 15","n":4,"c":8},{"m":"E484A","w":"Nov 22","n":30,"c":8},{"m":"E484A","w":"Nov 29","n":123,"c":8},{"m":"E484A","w":"Dec 06","n":871,"c":8},{"m":"E484A","w":"Dec 13","n":4835,"c":8},{"m":"E484A","w":"Dec 20","n":14293,"c":8},{"m":"E484A","w":"Dec 27","n":12619,"c":8},{"m":"E484A","w":"Jan 03","n":30406,"c":8},{"m":"E484A","w":"Jan 10","n":58692,"c":8},{"m":"E484A","w":"Jan 17","n":59633,"c":8},{"m":"E484A","w":"Jan 24","n":54947,"c":8},{"m":"E484A","w":"Jan 31","n":66024,"c":8},{"m":"E484A","w":"Feb 07","n":57274,"c":8},{"m":"E484A","w":"Feb 14","n":44514,"c":8},{"m":"E484A","w":"Feb 21","n":25817,"c":8},{"m":"E484A","w":"Feb 28","n":16386,"c":8},{"m":"E484A","w":"Mar 07","n":12240,"c":8},{"m":"E484A","w":"Mar 14","n":7052,"c":8},{"m":"E484A","w":"Mar 21","n":2855,"c":8},{"m":"E484A","w":"Mar 28","n":315,"c":8},
{"m":"Q493R","w":"Nov 08","n":2,"c":8},{"m":"Q493R","w":"Nov 15","n":7,"c":8},{"m":"Q493R","w":"Nov 22","n":163,"c":8},{"m":"Q493R","w":"Nov 29","n":1244,"c":8},{"m":"Q493R","w":"Dec 06","n":11207,"c":8},{"m":"Q493R","w":"Dec 13","n":44913,"c":8},{"m":"Q493R","w":"Dec 20","n":43594,"c":8},{"m":"Q493R","w":"Dec 27","n":69380,"c":8},{"m":"Q493R","w":"Jan 03","n":81137,"c":8},{"m":"Q493R","w":"Jan 10","n":70336,"c":8},{"m":"Q493R","w":"Jan 17","n":72899,"c":8},{"m":"Q493R","w":"Jan 24","n":64512,"c":8},{"m":"Q493R","w":"Jan 31","n":69199,"c":8},{"m":"Q493R","w":"Feb 07","n":59859,"c":8},{"m":"Q493R","w":"Feb 14","n":46280,"c":8},{"m":"Q493R","w":"Feb 21","n":27132,"c":8},{"m":"Q493R","w":"Feb 28","n":17268,"c":8},{"m":"Q493R","w":"Mar 07","n":12867,"c":8},{"m":"Q493R","w":"Mar 14","n":7371,"c":8},{"m":"Q493R","w":"Mar 21","n":2955,"c":8},{"m":"Q493R","w":"Mar 28","n":333,"c":8},
{"m":"K417N","w":"Nov 15","n":4,"c":8},{"m":"K417N","w":"Nov 22","n":29,"c":8},{"m":"K417N","w":"Nov 29","n":105,"c":8},{"m":"K417N","w":"Dec 06","n":701,"c":8},{"m":"K417N","w":"Dec 13","n":4440,"c":8},{"m":"K417N","w":"Dec 20","n":13560,"c":8},{"m":"K417N","w":"Dec 27","n":11343,"c":8},{"m":"K417N","w":"Jan 03","n":27744,"c":8},{"m":"K417N","w":"Jan 10","n":56769,"c":8},{"m":"K417N","w":"Jan 17","n":58106,"c":8},{"m":"K417N","w":"Jan 24","n":52873,"c":8},{"m":"K417N","w":"Jan 31","n":64042,"c":8},{"m":"K417N","w":"Feb 07","n":56181,"c":8},{"m":"K417N","w":"Feb 14","n":43009,"c":8},{"m":"K417N","w":"Feb 21","n":24554,"c":8},{"m":"K417N","w":"Feb 28","n":15392,"c":8},{"m":"K417N","w":"Mar 07","n":11595,"c":8},{"m":"K417N","w":"Mar 14","n":6742,"c":8},{"m":"K417N","w":"Mar 21","n":2752,"c":8},{"m":"K417N","w":"Mar 28","n":300,"c":8},
{"m":"N440K","w":"Nov 15","n":4,"c":8},{"m":"N440K","w":"Nov 22","n":25,"c":8},{"m":"N440K","w":"Nov 29","n":73,"c":8},{"m":"N440K","w":"Dec 06","n":404,"c":8},{"m":"N440K","w":"Dec 13","n":4091,"c":8},{"m":"N440K","w":"Dec 20","n":13309,"c":8},{"m":"N440K","w":"Dec 27","n":10466,"c":8},{"m":"N440K","w":"Jan 03","n":26267,"c":8},{"m":"N440K","w":"Jan 10","n":55949,"c":8},{"m":"N440K","w":"Jan 17","n":57265,"c":8},{"m":"N440K","w":"Jan 24","n":52590,"c":8},{"m":"N440K","w":"Jan 31","n":63956,"c":8},{"m":"N440K","w":"Feb 07","n":56076,"c":8},{"m":"N440K","w":"Feb 14","n":43054,"c":8},{"m":"N440K","w":"Feb 21","n":24662,"c":8},{"m":"N440K","w":"Feb 28","n":15414,"c":8},{"m":"N440K","w":"Mar 07","n":11601,"c":8},{"m":"N440K","w":"Mar 14","n":6757,"c":8},{"m":"N440K","w":"Mar 21","n":2755,"c":8},{"m":"N440K","w":"Mar 28","n":304,"c":8},
{"m":"S371L","w":"Nov 08","n":1,"c":8},{"m":"S371L","w":"Nov 15","n":6,"c":8},{"m":"S371L","w":"Nov 22","n":170,"c":8},{"m":"S371L","w":"Nov 29","n":1268,"c":8},{"m":"S371L","w":"Dec 06","n":11323,"c":8},{"m":"S371L","w":"Dec 13","n":44938,"c":8},{"m":"S371L","w":"Dec 20","n":43055,"c":8},{"m":"S371L","w":"Dec 27","n":69025,"c":8},{"m":"S371L","w":"Jan 03","n":80602,"c":8},{"m":"S371L","w":"Jan 10","n":66652,"c":8},{"m":"S371L","w":"Jan 17","n":70445,"c":8},{"m":"S371L","w":"Jan 24","n":62231,"c":8},{"m":"S371L","w":"Jan 31","n":67422,"c":8},{"m":"S371L","w":"Feb 07","n":58199,"c":8},{"m":"S371L","w":"Feb 14","n":44536,"c":8},{"m":"S371L","w":"Feb 21","n":26020,"c":8},{"m":"S371L","w":"Feb 28","n":17054,"c":8},{"m":"S371L","w":"Mar 07","n":12707,"c":8},{"m":"S371L","w":"Mar 14","n":7248,"c":8},{"m":"S371L","w":"Mar 21","n":2898,"c":8},{"m":"S371L","w":"Mar 28","n":325,"c":8},
{"m":"S375F","w":"Nov 08","n":1,"c":8},{"m":"S375F","w":"Nov 15","n":6,"c":8},{"m":"S375F","w":"Nov 22","n":169,"c":8},{"m":"S375F","w":"Nov 29","n":1262,"c":8},{"m":"S375F","w":"Dec 06","n":11313,"c":8},{"m":"S375F","w":"Dec 13","n":44876,"c":8},{"m":"S375F","w":"Dec 20","n":42896,"c":8},{"m":"S375F","w":"Dec 27","n":69037,"c":8},{"m":"S375F","w":"Jan 03","n":80403,"c":8},{"m":"S375F","w":"Jan 10","n":66678,"c":8},{"m":"S375F","w":"Jan 17","n":70784,"c":8},{"m":"S375F","w":"Jan 24","n":62227,"c":8},{"m":"S375F","w":"Jan 31","n":66825,"c":8},{"m":"S375F","w":"Feb 07","n":56988,"c":8},{"m":"S375F","w":"Feb 14","n":43957,"c":8},{"m":"S375F","w":"Feb 21","n":25728,"c":8},{"m":"S375F","w":"Feb 28","n":17081,"c":8},{"m":"S375F","w":"Mar 07","n":12736,"c":8},{"m":"S375F","w":"Mar 14","n":7280,"c":8},{"m":"S375F","w":"Mar 21","n":2910,"c":8},{"m":"S375F","w":"Mar 28","n":325,"c":8},
{"m":"D614G","w":"Nov 08","n":2,"c":8},{"m":"D614G","w":"Nov 15","n":12,"c":8},{"m":"D614G","w":"Nov 22","n":212,"c":8},{"m":"D614G","w":"Nov 29","n":1448,"c":8},{"m":"D614G","w":"Dec 06","n":12637,"c":8},{"m":"D614G","w":"Dec 13","n":50493,"c":8},{"m":"D614G","w":"Dec 20","n":50885,"c":8},{"m":"D614G","w":"Dec 27","n":84527,"c":8},{"m":"D614G","w":"Jan 03","n":95400,"c":8},{"m":"D614G","w":"Jan 10","n":78413,"c":8},{"m":"D614G","w":"Jan 17","n":79768,"c":8},{"m":"D614G","w":"Jan 24","n":68664,"c":8},{"m":"D614G","w":"Jan 31","n":72460,"c":8},{"m":"D614G","w":"Feb 07","n":63750,"c":8},{"m":"D614G","w":"Feb 14","n":47687,"c":8},{"m":"D614G","w":"Feb 21","n":27597,"c":8},{"m":"D614G","w":"Feb 28","n":17430,"c":8},{"m":"D614G","w":"Mar 07","n":13005,"c":8},{"m":"D614G","w":"Mar 14","n":7408,"c":8},{"m":"D614G","w":"Mar 21","n":2959,"c":8},{"m":"D614G","w":"Mar 28","n":334,"c":8},
{"m":"Q498R","w":"Nov 08","n":2,"c":8},{"m":"Q498R","w":"Nov 15","n":6,"c":8},{"m":"Q498R","w":"Nov 22","n":160,"c":8},{"m":"Q498R","w":"Nov 29","n":1219,"c":8},{"m":"Q498R","w":"Dec 06","n":11120,"c":8},{"m":"Q498R","w":"Dec 13","n":43255,"c":8},{"m":"Q498R","w":"Dec 20","n":35279,"c":8},{"m":"Q498R","w":"Dec 27","n":64598,"c":8},{"m":"Q498R","w":"Jan 03","n":78192,"c":8},{"m":"Q498R","w":"Jan 10","n":68357,"c":8},{"m":"Q498R","w":"Jan 17","n":71988,"c":8},{"m":"Q498R","w":"Jan 24","n":63016,"c":8},{"m":"Q498R","w":"Jan 31","n":60872,"c":8},{"m":"Q498R","w":"Feb 07","n":52505,"c":8},{"m":"Q498R","w":"Feb 14","n":44882,"c":8},{"m":"Q498R","w":"Feb 21","n":27054,"c":8},{"m":"Q498R","w":"Feb 28","n":17264,"c":8},{"m":"Q498R","w":"Mar 07","n":12870,"c":8},{"m":"Q498R","w":"Mar 14","n":7381,"c":8},{"m":"Q498R","w":"Mar 21","n":2964,"c":8},{"m":"Q498R","w":"Mar 28","n":333,"c":8},
{"m":"Y505H","w":"Nov 08","n":2,"c":8},{"m":"Y505H","w":"Nov 15","n":6,"c":8},{"m":"Y505H","w":"Nov 22","n":156,"c":8},{"m":"Y505H","w":"Nov 29","n":1215,"c":8},{"m":"Y505H","w":"Dec 06","n":11120,"c":8},{"m":"Y505H","w":"Dec 13","n":43238,"c":8},{"m":"Y505H","w":"Dec 20","n":35217,"c":8},{"m":"Y505H","w":"Dec 27","n":64486,"c":8},{"m":"Y505H","w":"Jan 03","n":78017,"c":8},{"m":"Y505H","w":"Jan 10","n":68252,"c":8},{"m":"Y505H","w":"Jan 17","n":71897,"c":8},{"m":"Y505H","w":"Jan 24","n":62869,"c":8},{"m":"Y505H","w":"Jan 31","n":60832,"c":8},{"m":"Y505H","w":"Feb 07","n":52470,"c":8},{"m":"Y505H","w":"Feb 14","n":44775,"c":8},{"m":"Y505H","w":"Feb 21","n":26960,"c":8},{"m":"Y505H","w":"Feb 28","n":17264,"c":8},{"m":"Y505H","w":"Mar 07","n":12827,"c":8},{"m":"Y505H","w":"Mar 14","n":7374,"c":8},{"m":"Y505H","w":"Mar 21","n":2965,"c":8},{"m":"Y505H","w":"Mar 28","n":333,"c":8},
{"m":"T95I","w":"Nov 08","n":2,"c":8},{"m":"T95I","w":"Nov 15","n":11,"c":8},{"m":"T95I","w":"Nov 22","n":205,"c":8},{"m":"T95I","w":"Nov 29","n":1414,"c":8},{"m":"T95I","w":"Dec 06","n":12457,"c":8},{"m":"T95I","w":"Dec 13","n":48481,"c":8},{"m":"T95I","w":"Dec 20","n":41832,"c":8},{"m":"T95I","w":"Dec 27","n":78847,"c":8},{"m":"T95I","w":"Jan 03","n":90304,"c":8},{"m":"T95I","w":"Jan 10","n":73948,"c":8},{"m":"T95I","w":"Jan 17","n":76725,"c":8},{"m":"T95I","w":"Jan 24","n":65042,"c":8},{"m":"T95I","w":"Jan 31","n":61728,"c":8},{"m":"T95I","w":"Feb 07","n":53687,"c":8},{"m":"T95I","w":"Feb 14","n":45146,"c":8},{"m":"T95I","w":"Feb 21","n":26883,"c":8},{"m":"T95I","w":"Feb 28","n":16700,"c":8},{"m":"T95I","w":"Mar 07","n":12463,"c":8},{"m":"T95I","w":"Mar 14","n":7141,"c":8},{"m":"T95I","w":"Mar 21","n":2875,"c":8},{"m":"T95I","w":"Mar 28","n":328,"c":8},
{"m":"T547K","w":"Nov 08","n":2,"c":8},{"m":"T547K","w":"Nov 15","n":12,"c":8},{"m":"T547K","w":"Nov 22","n":209,"c":8},{"m":"T547K","w":"Nov 29","n":1432,"c":8},{"m":"T547K","w":"Dec 06","n":12392,"c":8},{"m":"T547K","w":"Dec 13","n":50025,"c":8},{"m":"T547K","w":"Dec 20","n":50823,"c":8},{"m":"T547K","w":"Dec 27","n":83784,"c":8},{"m":"T547K","w":"Jan 03","n":94474,"c":8},{"m":"T547K","w":"Jan 10","n":78181,"c":8},{"m":"T547K","w":"Jan 17","n":79415,"c":8},{"m":"T547K","w":"Jan 24","n":68668,"c":8},{"m":"T547K","w":"Jan 31","n":72189,"c":8},{"m":"T547K","w":"Feb 07","n":63437,"c":8},{"m":"T547K","w":"Feb 14","n":47488,"c":8},{"m":"T547K","w":"Feb 21","n":27361,"c":8},{"m":"T547K","w":"Feb 28","n":17379,"c":8},{"m":"T547K","w":"Mar 07","n":12977,"c":8},{"m":"T547K","w":"Mar 14","n":7382,"c":8},{"m":"T547K","w":"Mar 21","n":2944,"c":8},{"m":"T547K","w":"Mar 28","n":327,"c":8},
{"m":"T478K","w":"Nov 15","n":4,"c":8},{"m":"T478K","w":"Nov 22","n":30,"c":8},{"m":"T478K","w":"Nov 29","n":126,"c":8},{"m":"T478K","w":"Dec 06","n":895,"c":8},{"m":"T478K","w":"Dec 13","n":4870,"c":8},{"m":"T478K","w":"Dec 20","n":14289,"c":8},{"m":"T478K","w":"Dec 27","n":12594,"c":8},{"m":"T478K","w":"Jan 03","n":30393,"c":8},{"m":"T478K","w":"Jan 10","n":58695,"c":8},{"m":"T478K","w":"Jan 17","n":59674,"c":8},{"m":"T478K","w":"Jan 24","n":54982,"c":8},{"m":"T478K","w":"Jan 31","n":66088,"c":8},{"m":"T478K","w":"Feb 07","n":57368,"c":8},{"m":"T478K","w":"Feb 14","n":44511,"c":8},{"m":"T478K","w":"Feb 21","n":25725,"c":8},{"m":"T478K","w":"Feb 28","n":16424,"c":8},{"m":"T478K","w":"Mar 07","n":12278,"c":8},{"m":"T478K","w":"Mar 14","n":7068,"c":8},{"m":"T478K","w":"Mar 21","n":2867,"c":8},{"m":"T478K","w":"Mar 28","n":316,"c":8},
{"m":"S477N","w":"Nov 15","n":4,"c":8},{"m":"S477N","w":"Nov 22","n":30,"c":8},{"m":"S477N","w":"Nov 29","n":121,"c":8},{"m":"S477N","w":"Dec 06","n":872,"c":8},{"m":"S477N","w":"Dec 13","n":4833,"c":8},{"m":"S477N","w":"Dec 20","n":14283,"c":8},{"m":"S477N","w":"Dec 27","n":12611,"c":8},{"m":"S477N","w":"Jan 03","n":30426,"c":8},{"m":"S477N","w":"Jan 10","n":58732,"c":8},{"m":"S477N","w":"Jan 17","n":59692,"c":8},{"m":"S477N","w":"Jan 24","n":55003,"c":8},{"m":"S477N","w":"Jan 31","n":66080,"c":8},{"m":"S477N","w":"Feb 07","n":57382,"c":8},{"m":"S477N","w":"Feb 14","n":44513,"c":8},{"m":"S477N","w":"Feb 21","n":25726,"c":8},{"m":"S477N","w":"Feb 28","n":16425,"c":8},{"m":"S477N","w":"Mar 07","n":12278,"c":8},{"m":"S477N","w":"Mar 14","n":7067,"c":8},{"m":"S477N","w":"Mar 21","n":2867,"c":8},{"m":"S477N","w":"Mar 28","n":316,"c":8},
{"m":"S373P","w":"Nov 08","n":1,"c":8},{"m":"S373P","w":"Nov 15","n":6,"c":8},{"m":"S373P","w":"Nov 22","n":170,"c":8},{"m":"S373P","w":"Nov 29","n":1262,"c":8},{"m":"S373P","w":"Dec 06","n":11316,"c":8},{"m":"S373P","w":"Dec 13","n":44925,"c":8},{"m":"S373P","w":"Dec 20","n":43091,"c":8},{"m":"S373P","w":"Dec 27","n":69166,"c":8},{"m":"S373P","w":"Jan 03","n":80909,"c":8},{"m":"S373P","w":"Jan 10","n":66801,"c":8},{"m":"S373P","w":"Jan 17","n":70821,"c":8},{"m":"S373P","w":"Jan 24","n":62347,"c":8},{"m":"S373P","w":"Jan 31","n":67593,"c":8},{"m":"S373P","w":"Feb 07","n":58298,"c":8},{"m":"S373P","w":"Feb 14","n":44644,"c":8},{"m":"S373P","w":"Feb 21","n":26092,"c":8},{"m":"S373P","w":"Feb 28","n":17094,"c":8},{"m":"S373P","w":"Mar 07","n":12754,"c":8},{"m":"S373P","w":"Mar 14","n":7288,"c":8},{"m":"S373P","w":"Mar 21","n":2912,"c":8},{"m":"S373P","w":"Mar 28","n":325,"c":8},
{"m":"Q954H","w":"Nov 08","n":2,"c":8},{"m":"Q954H","w":"Nov 15","n":11,"c":8},{"m":"Q954H","w":"Nov 22","n":211,"c":8},{"m":"Q954H","w":"Nov 29","n":1416,"c":8},{"m":"Q954H","w":"Dec 06","n":12437,"c":8},{"m":"Q954H","w":"Dec 13","n":49893,"c":8},{"m":"Q954H","w":"Dec 20","n":50805,"c":8},{"m":"Q954H","w":"Dec 27","n":83642,"c":8},{"m":"Q954H","w":"Jan 03","n":94245,"c":8},{"m":"Q954H","w":"Jan 10","n":77485,"c":8},{"m":"Q954H","w":"Jan 17","n":79123,"c":8},{"m":"Q954H","w":"Jan 24","n":68482,"c":8},{"m":"Q954H","w":"Jan 31","n":72300,"c":8},{"m":"Q954H","w":"Feb 07","n":63551,"c":8},{"m":"Q954H","w":"Feb 14","n":47548,"c":8},{"m":"Q954H","w":"Feb 21","n":27465,"c":8},{"m":"Q954H","w":"Feb 28","n":17297,"c":8},{"m":"Q954H","w":"Mar 07","n":12935,"c":8},{"m":"Q954H","w":"Mar 14","n":7345,"c":8},{"m":"Q954H","w":"Mar 21","n":2930,"c":8},{"m":"Q954H","w":"Mar 28","n":328,"c":8},
{"m":"P681H","w":"Nov 15","n":11,"c":8},{"m":"P681H","w":"Nov 22","n":201,"c":8},{"m":"P681H","w":"Nov 29","n":1341,"c":8},{"m":"P681H","w":"Dec 06","n":10240,"c":8},{"m":"P681H","w":"Dec 13","n":40589,"c":8},{"m":"P681H","w":"Dec 20","n":45426,"c":8},{"m":"P681H","w":"Dec 27","n":69468,"c":8},{"m":"P681H","w":"Jan 03","n":77373,"c":8},{"m":"P681H","w":"Jan 10","n":70841,"c":8},{"m":"P681H","w":"Jan 17","n":73905,"c":8},{"m":"P681H","w":"Jan 24","n":63190,"c":8},{"m":"P681H","w":"Jan 31","n":68990,"c":8},{"m":"P681H","w":"Feb 07","n":60444,"c":8},{"m":"P681H","w":"Feb 14","n":46013,"c":8},{"m":"P681H","w":"Feb 21","n":26231,"c":8},{"m":"P681H","w":"Feb 28","n":16273,"c":8},{"m":"P681H","w":"Mar 07","n":12115,"c":8},{"m":"P681H","w":"Mar 14","n":6885,"c":8},{"m":"P681H","w":"Mar 21","n":2702,"c":8},{"m":"P681H","w":"Mar 28","n":292,"c":8},
{"m":"N969K","w":"Nov 08","n":2,"c":8},{"m":"N969K","w":"Nov 15","n":12,"c":8},{"m":"N969K","w":"Nov 22","n":212,"c":8},{"m":"N969K","w":"Nov 29","n":1421,"c":8},{"m":"N969K","w":"Dec 06","n":12591,"c":8},{"m":"N969K","w":"Dec 13","n":50462,"c":8},{"m":"N969K","w":"Dec 20","n":51103,"c":8},{"m":"N969K","w":"Dec 27","n":84617,"c":8},{"m":"N969K","w":"Jan 03","n":95570,"c":8},{"m":"N969K","w":"Jan 10","n":78496,"c":8},{"m":"N969K","w":"Jan 17","n":79917,"c":8},{"m":"N969K","w":"Jan 24","n":69008,"c":8},{"m":"N969K","w":"Jan 31","n":72633,"c":8},{"m":"N969K","w":"Feb 07","n":63866,"c":8},{"m":"N969K","w":"Feb 14","n":47711,"c":8},{"m":"N969K","w":"Feb 21","n":27614,"c":8},{"m":"N969K","w":"Feb 28","n":17441,"c":8},{"m":"N969K","w":"Mar 07","n":13037,"c":8},{"m":"N969K","w":"Mar 14","n":7414,"c":8},{"m":"N969K","w":"Mar 21","n":2964,"c":8},{"m":"N969K","w":"Mar 28","n":334,"c":8},
{"m":"N856K","w":"Nov 08","n":2,"c":8},{"m":"N856K","w":"Nov 15","n":12,"c":8},{"m":"N856K","w":"Nov 22","n":210,"c":8},{"m":"N856K","w":"Nov 29","n":1431,"c":8},{"m":"N856K","w":"Dec 06","n":12434,"c":8},{"m":"N856K","w":"Dec 13","n":49648,"c":8},{"m":"N856K","w":"Dec 20","n":50375,"c":8},{"m":"N856K","w":"Dec 27","n":83181,"c":8},{"m":"N856K","w":"Jan 03","n":93122,"c":8},{"m":"N856K","w":"Jan 10","n":76687,"c":8},{"m":"N856K","w":"Jan 17","n":78176,"c":8},{"m":"N856K","w":"Jan 24","n":67604,"c":8},{"m":"N856K","w":"Jan 31","n":71361,"c":8},{"m":"N856K","w":"Feb 07","n":62389,"c":8},{"m":"N856K","w":"Feb 14","n":47085,"c":8},{"m":"N856K","w":"Feb 21","n":27133,"c":8},{"m":"N856K","w":"Feb 28","n":17100,"c":8},{"m":"N856K","w":"Mar 07","n":12760,"c":8},{"m":"N856K","w":"Mar 14","n":7284,"c":8},{"m":"N856K","w":"Mar 21","n":2893,"c":8},{"m":"N856K","w":"Mar 28","n":331,"c":8},
{"m":"N764K","w":"Nov 15","n":11,"c":8},{"m":"N764K","w":"Nov 22","n":170,"c":8},{"m":"N764K","w":"Nov 29","n":1023,"c":8},{"m":"N764K","w":"Dec 06","n":7275,"c":8},{"m":"N764K","w":"Dec 13","n":23562,"c":8},{"m":"N764K","w":"Dec 20","n":36744,"c":8},{"m":"N764K","w":"Dec 27","n":54308,"c":8},{"m":"N764K","w":"Jan 03","n":65291,"c":8},{"m":"N764K","w":"Jan 10","n":70111,"c":8},{"m":"N764K","w":"Jan 17","n":72973,"c":8},{"m":"N764K","w":"Jan 24","n":62408,"c":8},{"m":"N764K","w":"Jan 31","n":68171,"c":8},{"m":"N764K","w":"Feb 07","n":59904,"c":8},{"m":"N764K","w":"Feb 14","n":45551,"c":8},{"m":"N764K","w":"Feb 21","n":26055,"c":8},{"m":"N764K","w":"Feb 28","n":16172,"c":8},{"m":"N764K","w":"Mar 07","n":12061,"c":8},{"m":"N764K","w":"Mar 14","n":6821,"c":8},{"m":"N764K","w":"Mar 21","n":2691,"c":8},{"m":"N764K","w":"Mar 28","n":289,"c":8},
{"m":"N679K","w":"Nov 15","n":11,"c":8},{"m":"N679K","w":"Nov 22","n":201,"c":8},{"m":"N679K","w":"Nov 29","n":1341,"c":8},{"m":"N679K","w":"Dec 06","n":10241,"c":8},{"m":"N679K","w":"Dec 13","n":40597,"c":8},{"m":"N679K","w":"Dec 20","n":45439,"c":8},{"m":"N679K","w":"Dec 27","n":69473,"c":8},{"m":"N679K","w":"Jan 03","n":77386,"c":8},{"m":"N679K","w":"Jan 10","n":70847,"c":8},{"m":"N679K","w":"Jan 17","n":73919,"c":8},{"m":"N679K","w":"Jan 24","n":63191,"c":8},{"m":"N679K","w":"Jan 31","n":69000,"c":8},{"m":"N679K","w":"Feb 07","n":60461,"c":8},{"m":"N679K","w":"Feb 14","n":46036,"c":8},{"m":"N679K","w":"Feb 21","n":26248,"c":8},{"m":"N679K","w":"Feb 28","n":16275,"c":8},{"m":"N679K","w":"Mar 07","n":12119,"c":8},{"m":"N679K","w":"Mar 14","n":6892,"c":8},{"m":"N679K","w":"Mar 21","n":2702,"c":8},{"m":"N679K","w":"Mar 28","n":292,"c":8},
{"m":"N501Y","w":"Nov 08","n":2,"c":8},{"m":"N501Y","w":"Nov 15","n":6,"c":8},{"m":"N501Y","w":"Nov 22","n":160,"c":8},{"m":"N501Y","w":"Nov 29","n":1219,"c":8},{"m":"N501Y","w":"Dec 06","n":11123,"c":8},{"m":"N501Y","w":"Dec 13","n":43266,"c":8},{"m":"N501Y","w":"Dec 20","n":35295,"c":8},{"m":"N501Y","w":"Dec 27","n":64630,"c":8},{"m":"N501Y","w":"Jan 03","n":78222,"c":8},{"m":"N501Y","w":"Jan 10","n":68367,"c":8},{"m":"N501Y","w":"Jan 17","n":71992,"c":8},{"m":"N501Y","w":"Jan 24","n":63008,"c":8},{"m":"N501Y","w":"Jan 31","n":60872,"c":8},{"m":"N501Y","w":"Feb 07","n":52526,"c":8},{"m":"N501Y","w":"Feb 14","n":44871,"c":8},{"m":"N501Y","w":"Feb 21","n":27037,"c":8},{"m":"N501Y","w":"Feb 28","n":17270,"c":8},{"m":"N501Y","w":"Mar 07","n":12867,"c":8},{"m":"N501Y","w":"Mar 14","n":7381,"c":8},{"m":"N501Y","w":"Mar 21","n":2965,"c":8},{"m":"N501Y","w":"Mar 28","n":333,"c":8},
{"m":"L981F","w":"Nov 08","n":2,"c":8},{"m":"L981F","w":"Nov 15","n":12,"c":8},{"m":"L981F","w":"Nov 22","n":212,"c":8},{"m":"L981F","w":"Nov 29","n":1422,"c":8},{"m":"L981F","w":"Dec 06","n":12589,"c":8},{"m":"L981F","w":"Dec 13","n":50445,"c":8},{"m":"L981F","w":"Dec 20","n":51054,"c":8},{"m":"L981F","w":"Dec 27","n":84581,"c":8},{"m":"L981F","w":"Jan 03","n":95316,"c":8},{"m":"L981F","w":"Jan 10","n":78430,"c":8},{"m":"L981F","w":"Jan 17","n":79598,"c":8},{"m":"L981F","w":"Jan 24","n":68925,"c":8},{"m":"L981F","w":"Jan 31","n":72496,"c":8},{"m":"L981F","w":"Feb 07","n":63827,"c":8},{"m":"L981F","w":"Feb 14","n":47654,"c":8},{"m":"L981F","w":"Feb 21","n":27592,"c":8},{"m":"L981F","w":"Feb 28","n":17420,"c":8},{"m":"L981F","w":"Mar 07","n":13026,"c":8},{"m":"L981F","w":"Mar 14","n":7395,"c":8},{"m":"L981F","w":"Mar 21","n":2959,"c":8},{"m":"L981F","w":"Mar 28","n":334,"c":8},
{"m":"H655Y","w":"Nov 08","n":2,"c":8},{"m":"H655Y","w":"Nov 15","n":12,"c":8},{"m":"H655Y","w":"Nov 22","n":209,"c":8},{"m":"H655Y","w":"Nov 29","n":1442,"c":8},{"m":"H655Y","w":"Dec 06","n":12607,"c":8},{"m":"H655Y","w":"Dec 13","n":50424,"c":8},{"m":"H655Y","w":"Dec 20","n":50694,"c":8},{"m":"H655Y","w":"Dec 27","n":84169,"c":8},{"m":"H655Y","w":"Jan 03","n":95227,"c":8},{"m":"H655Y","w":"Jan 10","n":78078,"c":8},{"m":"H655Y","w":"Jan 17","n":79621,"c":8},{"m":"H655Y","w":"Jan 24","n":68665,"c":8},{"m":"H655Y","w":"Jan 31","n":72459,"c":8},{"m":"H655Y","w":"Feb 07","n":63721,"c":8},{"m":"H655Y","w":"Feb 14","n":47684,"c":8},{"m":"H655Y","w":"Feb 21","n":27606,"c":8},{"m":"H655Y","w":"Feb 28","n":17437,"c":8},{"m":"H655Y","w":"Mar 07","n":13009,"c":8},{"m":"H655Y","w":"Mar 14","n":7412,"c":8},{"m":"H655Y","w":"Mar 21","n":2961,"c":8},{"m":"H655Y","w":"Mar 28","n":334,"c":8},
{"m":"G496S","w":"Nov 08","n":2,"c":8},{"m":"G496S","w":"Nov 15","n":6,"c":8},{"m":"G496S","w":"Nov 22","n":166,"c":8},{"m":"G496S","w":"Nov 29","n":1225,"c":8},{"m":"G496S","w":"Dec 06","n":11126,"c":8},{"m":"G496S","w":"Dec 13","n":43481,"c":8},{"m":"G496S","w":"Dec 20","n":35428,"c":8},{"m":"G496S","w":"Dec 27","n":64676,"c":8},{"m":"G496S","w":"Jan 03","n":78354,"c":8},{"m":"G496S","w":"Jan 10","n":68392,"c":8},{"m":"G496S","w":"Jan 17","n":72022,"c":8},{"m":"G496S","w":"Jan 24","n":63039,"c":8},{"m":"G496S","w":"Jan 31","n":60946,"c":8},{"m":"G496S","w":"Feb 07","n":52515,"c":8},{"m":"G496S","w":"Feb 14","n":44873,"c":8},{"m":"G496S","w":"Feb 21","n":27075,"c":8},{"m":"G496S","w":"Feb 28","n":17250,"c":8},{"m":"G496S","w":"Mar 07","n":12854,"c":8},{"m":"G496S","w":"Mar 14","n":7365,"c":8},{"m":"G496S","w":"Mar 21","n":2956,"c":8},{"m":"G496S","w":"Mar 28","n":333,"c":8},
{"m":"G339D","w":"Nov 08","n":1,"c":8},{"m":"G339D","w":"Nov 15","n":11,"c":8},{"m":"G339D","w":"Nov 22","n":208,"c":8},{"m":"G339D","w":"Nov 29","n":1422,"c":8},{"m":"G339D","w":"Dec 06","n":12308,"c":8},{"m":"G339D","w":"Dec 13","n":48948,"c":8},{"m":"G339D","w":"Dec 20","n":48363,"c":8},{"m":"G339D","w":"Dec 27","n":79281,"c":8},{"m":"G339D","w":"Jan 03","n":89084,"c":8},{"m":"G339D","w":"Jan 10","n":72262,"c":8},{"m":"G339D","w":"Jan 17","n":75759,"c":8},{"m":"G339D","w":"Jan 24","n":65672,"c":8},{"m":"G339D","w":"Jan 31","n":69455,"c":8},{"m":"G339D","w":"Feb 07","n":59748,"c":8},{"m":"G339D","w":"Feb 14","n":45627,"c":8},{"m":"G339D","w":"Feb 21","n":26394,"c":8},{"m":"G339D","w":"Feb 28","n":17227,"c":8},{"m":"G339D","w":"Mar 07","n":12832,"c":8},{"m":"G339D","w":"Mar 14","n":7317,"c":8},{"m":"G339D","w":"Mar 21","n":2923,"c":8},{"m":"G339D","w":"Mar 28","n":327,"c":8},
{"m":"D796Y","w":"Nov 08","n":2,"c":8},{"m":"D796Y","w":"Nov 15","n":12,"c":8},{"m":"D796Y","w":"Nov 22","n":207,"c":8},{"m":"D796Y","w":"Nov 29","n":1435,"c":8},{"m":"D796Y","w":"Dec 06","n":12513,"c":8},{"m":"D796Y","w":"Dec 13","n":49812,"c":8},{"m":"D796Y","w":"Dec 20","n":50201,"c":8},{"m":"D796Y","w":"Dec 27","n":83206,"c":8},{"m":"D796Y","w":"Jan 03","n":92749,"c":8},{"m":"D796Y","w":"Jan 10","n":76906,"c":8},{"m":"D796Y","w":"Jan 17","n":78203,"c":8},{"m":"D796Y","w":"Jan 24","n":67589,"c":8},{"m":"D796Y","w":"Jan 31","n":70969,"c":8},{"m":"D796Y","w":"Feb 07","n":62497,"c":8},{"m":"D796Y","w":"Feb 14","n":46875,"c":8},{"m":"D796Y","w":"Feb 21","n":27206,"c":8},{"m":"D796Y","w":"Feb 28","n":17099,"c":8},{"m":"D796Y","w":"Mar 07","n":12735,"c":8},{"m":"D796Y","w":"Mar 14","n":7280,"c":8},{"m":"D796Y","w":"Mar 21","n":2890,"c":8},{"m":"D796Y","w":"Mar 28","n":330,"c":8},
{"m":"A67V","w":"Nov 08","n":2,"c":8},{"m":"A67V","w":"Nov 15","n":11,"c":8},{"m":"A67V","w":"Nov 22","n":212,"c":8},{"m":"A67V","w":"Nov 29","n":1438,"c":8},{"m":"A67V","w":"Dec 06","n":12547,"c":8},{"m":"A67V","w":"Dec 13","n":49722,"c":8},{"m":"A67V","w":"Dec 20","n":47388,"c":8},{"m":"A67V","w":"Dec 27","n":81827,"c":8},{"m":"A67V","w":"Jan 03","n":92292,"c":8},{"m":"A67V","w":"Jan 10","n":74678,"c":8},{"m":"A67V","w":"Jan 17","n":76964,"c":8},{"m":"A67V","w":"Jan 24","n":65731,"c":8},{"m":"A67V","w":"Jan 31","n":66634,"c":8},{"m":"A67V","w":"Feb 07","n":56946,"c":8},{"m":"A67V","w":"Feb 14","n":45644,"c":8},{"m":"A67V","w":"Feb 21","n":26811,"c":8},{"m":"A67V","w":"Feb 28","n":16665,"c":8},{"m":"A67V","w":"Mar 07","n":12487,"c":8},{"m":"A67V","w":"Mar 14","n":7130,"c":8},{"m":"A67V","w":"Mar 21","n":2864,"c":8},{"m":"A67V","w":"Mar 28","n":325,"c":8}]},
"concat":[
{"width":911,"height":900.9,"layer":[
{"data":{"name":"wk2"},"mark":{"type":"rule","color":"#efefef"},"encoding":{"x":{"field":"w","type":"ordinal","bandPosition":0,"axis":null,"scale":{"domain":["Aug 30","Sep 06","Sep 13","Sep 20","Sep 27","Oct 04","Oct 11","Oct 18","Oct 25","Nov 01","Nov 08","Nov 15","Nov 22","Nov 29","Dec 06","Dec 13","Dec 20","Dec 27","Jan 03","Jan 10","Jan 17","Jan 24","Jan 31","Feb 07","Feb 14","Feb 21","Feb 28","Mar 07","Mar 14","Mar 21","Mar 28","Apr 04"],"range":[-14.7,925.7],"paddingInner":0,"paddingOuter":0}}}},
{"data":{"name":"wk"},"mark":{"type":"rule","color":"#cfcfcf"},"encoding":{"x":{"field":"w","type":"ordinal","axis":null}}},
{"data":{"name":"r1"},"mark":{"type":"rule","color":"#dcdcdc","strokeWidth":0.8},"encoding":{"y":{"field":"m","type":"nominal","sort":null,"scale":{"domain":["V308L","T961M","T778I","T734I","T376A","T208M","T208K","S71F","S1252P","R408S","R21K","R1185H","Q493L","P9T","P85S","P681Y","P631S","P1079T","N211S","M740T","L452R","H1101Y","H1101Q","F306L","D405N","D215E","D198G","C15F","C1243F","A892S","A879S","A846V","A264V","I624L","A626S","T1006I","V551I","A522V","T22I","E1202Q","L189F","D1153Y","A222S","E132Q","H146Q","D138Y","S151I","F157L","S371F","P809S","H49Y","P272L","T259I","T732I","D1084E","P1263L","S884F","L938F","T323I","A672V","L24S","E309Q","K854N","H245Y","D950N","N354K","S256L","Q628E","A27S","C136F","T76I","A831V","S704L","L18P","M740I","V1264M","I1081V","F643L","L5F","Q628K","A701V","Y145D","Y145N","R346K"]},"axis":{"title":"Mutation","titleX":-52,"titleY":613,"titleFontSize":13.5,"titleFontWeight":"normal","titleColor":"#1a1a1a","labelFontSize":11.5,"domain":false,"grid":false,"labelPadding":1,"labelOverlap":false,"labelSeparation":0}}}},
{"data":{"name":"na"},"mark":{"type":"rect","fill":"white","stroke":"#000","strokeOpacity":0.06,"strokeWidth":1},"encoding":{"x":{"field":"w","type":"ordinal","axis":null},"y":{"field":"m","type":"nominal"}}},
{"data":{"name":"h"},"mark":{"type":"rect","stroke":"#000","strokeOpacity":0.1,"strokeWidth":1},"encoding":{"x":{"field":"w","type":"ordinal","axis":null},"y":{"field":"m","type":"nominal"},"color":{"field":"c","type":"ordinal","scale":{"domain":[1,2,3,4,5,6,7,8],"range":["#FDE725","#A0DA39","#4AC16D","#1FA187","#277F8E","#365C8D","#46327E","#440154"]},"legend":null}}},
{"data":{"name":"h"},"mark":{"type":"text","fontSize":8.5},"encoding":{"x":{"field":"w","type":"ordinal","axis":null},"y":{"field":"m","type":"nominal"},"text":{"field":"n","type":"quantitative","format":",d"},"color":{"condition":{"test":"datum.c>=5","value":"#eeeeee"},"value":"#222222"}}}
]},
{"width":72,"height":900.9,"view":{"fill":"#d9d9d9","stroke":null},"data":{"values":[{"s":"Acquired"}]},"mark":{"type":"text","fontSize":13,"color":"#1a1a1a"},"encoding":{"text":{"field":"s"}}},
{"width":911,"height":322.6,"layer":[
{"data":{"name":"wk2"},"mark":{"type":"rule","color":"#efefef"},"encoding":{"x":{"field":"w","type":"ordinal","bandPosition":0,"axis":null,"scale":{"domain":["Aug 30","Sep 06","Sep 13","Sep 20","Sep 27","Oct 04","Oct 11","Oct 18","Oct 25","Nov 01","Nov 08","Nov 15","Nov 22","Nov 29","Dec 06","Dec 13","Dec 20","Dec 27","Jan 03","Jan 10","Jan 17","Jan 24","Jan 31","Feb 07","Feb 14","Feb 21","Feb 28","Mar 07","Mar 14","Mar 21","Mar 28","Apr 04"],"range":[-14.7,925.7],"paddingInner":0,"paddingOuter":0}}}},
{"data":{"name":"wk"},"mark":{"type":"rule","color":"#cfcfcf"},"encoding":{"x":{"field":"w","type":"ordinal","axis":null}}},
{"data":{"name":"r2"},"mark":{"type":"rule","color":"#dcdcdc","strokeWidth":0.8},"encoding":{"y":{"field":"m","type":"nominal","sort":null,"scale":{"domain":["V213G","G142D","G446S","E484A","Q493R","K417N","N440K","S371L","S375F","D614G","Q498R","Y505H","T95I","T547K","T478K","S477N","S373P","Q954H","P681H","N969K","N856K","N764K","N679K","N501Y","L981F","H655Y","G496S","G339D","D796Y","A67V"]},"axis":{"title":null,"labelFontSize":11.5,"domain":false,"grid":false,"labelPadding":1,"labelOverlap":false,"labelSeparation":0}}}},
{"data":{"name":"na2"},"mark":{"type":"rect","fill":"white","stroke":"#000","strokeOpacity":0.06,"strokeWidth":1},"encoding":{"x":{"field":"w","type":"ordinal","axis":null},"y":{"field":"m","type":"nominal"}}},
{"data":{"name":"h2"},"mark":{"type":"rect","stroke":"#000","strokeOpacity":0.1,"strokeWidth":1},"encoding":{"x":{"field":"w","type":"ordinal","axis":null},"y":{"field":"m","type":"nominal"},"color":{"field":"c","type":"ordinal","scale":{"domain":[1,2,3,4,5,6,7,8],"range":["#FDE725","#A0DA39","#4AC16D","#1FA187","#277F8E","#365C8D","#46327E","#440154"]},"legend":null}}},
{"data":{"name":"h2"},"mark":{"type":"text","fontSize":8.5},"encoding":{"x":{"field":"w","type":"ordinal","axis":null},"y":{"field":"m","type":"nominal"},"text":{"field":"n","type":"quantitative","format":",d"},"color":{"condition":{"test":"datum.c>=5","value":"#eeeeee"},"value":"#222222"}}}
]},
{"width":72,"height":322.6,"view":{"fill":"#d9d9d9","stroke":null},"data":{"values":[{"s":["Expected in","all BA.1"]}]},"mark":{"type":"text","fontSize":13,"color":"#1a1a1a","lineHeight":14},"encoding":{"text":{"field":"s"}}},
{"width":911,"height":182,"resolve":{"scale":{"color":"independent"}},"layer":[
{"data":{"values":[{"c":1},{"c":2},{"c":3},{"c":4},{"c":5},{"c":6},{"c":7},{"c":8}]},"mark":{"type":"rect","opacity":0},"encoding":{"color":{"field":"c","type":"ordinal","scale":{"domain":[1,2,3,4,5,6,7,8],"range":["#FDE725","#A0DA39","#4AC16D","#1FA187","#277F8E","#365C8D","#46327E","#440154"]},"legend":{"orient":"none","legendX":184,"legendY":288,"direction":"vertical","columns":4,"title":["Frequency of","Mutation"],"titleOrient":"left","titleFontSize":17.5,"titleFontWeight":"normal","titleColor":"black","titleLineHeight":21,"titlePadding":8,"labelFontSize":15.5,"labelColor":"black","symbolOpacity":1,"symbolType":"M-1,-1.72H1V1.72H-1Z","symbolSize":81,"symbolStrokeWidth":0,"columnPadding":7,"rowPadding":0,"labelOffset":6,"labelExpr":"['','<0.5%','0.5-1%','1-5%','5-10%','10-25%','25-50%','50-75%','75-100%'][datum.value]"}}}},
{"data":{"name":"wk"},"mark":{"type":"rule","color":"#e8e8e8"},"encoding":{"x":{"field":"w","type":"ordinal","scale":{"domain":["Aug 30","Sep 06","Sep 13","Sep 20","Sep 27","Oct 04","Oct 11","Oct 18","Oct 25","Nov 01","Nov 08","Nov 15","Nov 22","Nov 29","Dec 06","Dec 13","Dec 20","Dec 27","Jan 03","Jan 10","Jan 17","Jan 24","Jan 31","Feb 07","Feb 14","Feb 21","Feb 28","Mar 07","Mar 14","Mar 21","Mar 28","Apr 04"],"range":[-14.7,925.7],"paddingInner":0,"paddingOuter":0},"axis":{"orient":"bottom","title":"Week Beginning","titleFontSize":14,"titleFontWeight":"normal","titleColor":"#1a1a1a","titlePadding":0,"labelFontSize":13,"labelAngle":-90,"labelPadding":2,"grid":false,"domain":false,"labelOverlap":false}}}},
{"data":{"name":"wk2"},"mark":{"type":"rule","color":"#f5f5f5"},"encoding":{"x":{"field":"w","type":"ordinal","bandPosition":0}}},
{"data":{"values":[{"v":12500},{"v":37500},{"v":62500},{"v":87500}]},"mark":{"type":"rule","color":"#f5f5f5"},"encoding":{"y":{"field":"v","type":"quantitative","scale":{"domain":[-4200,100400],"nice":false,"zero":false},"axis":{"title":["Number of","Sequences"],"titleX":-67,"titleLineHeight":13,"titleFontSize":13.5,"titleFontWeight":"normal","titleColor":"#1a1a1a","labelFontSize":14,"values":[0,25000,50000,75000,100000],"format":"d","domain":false,"grid":false}}}},
{"data":{"values":[{"v":0},{"v":25000},{"v":50000},{"v":75000},{"v":100000}]},"mark":{"type":"rule","color":"#e8e8e8"},"encoding":{"y":{"field":"v","type":"quantitative"}}},
{"data":{"name":"t"},"mark":{"type":"line","strokeWidth":1.2},"encoding":{"x":{"field":"w","type":"ordinal"},"y":{"field":"v","type":"quantitative"},"stroke":{"datum":"total","scale":{"range":["#333333"]},"legend":{"orient":"none","legendX":628,"legendY":1531,"title":["Number of","Sequences"],"titleOrient":"right","titleFontSize":15.5,"titleFontWeight":"normal","titleColor":"black","titleLineHeight":18,"labelExpr":"''","symbolType":"stroke","symbolSize":25}}}}
]}
]}
